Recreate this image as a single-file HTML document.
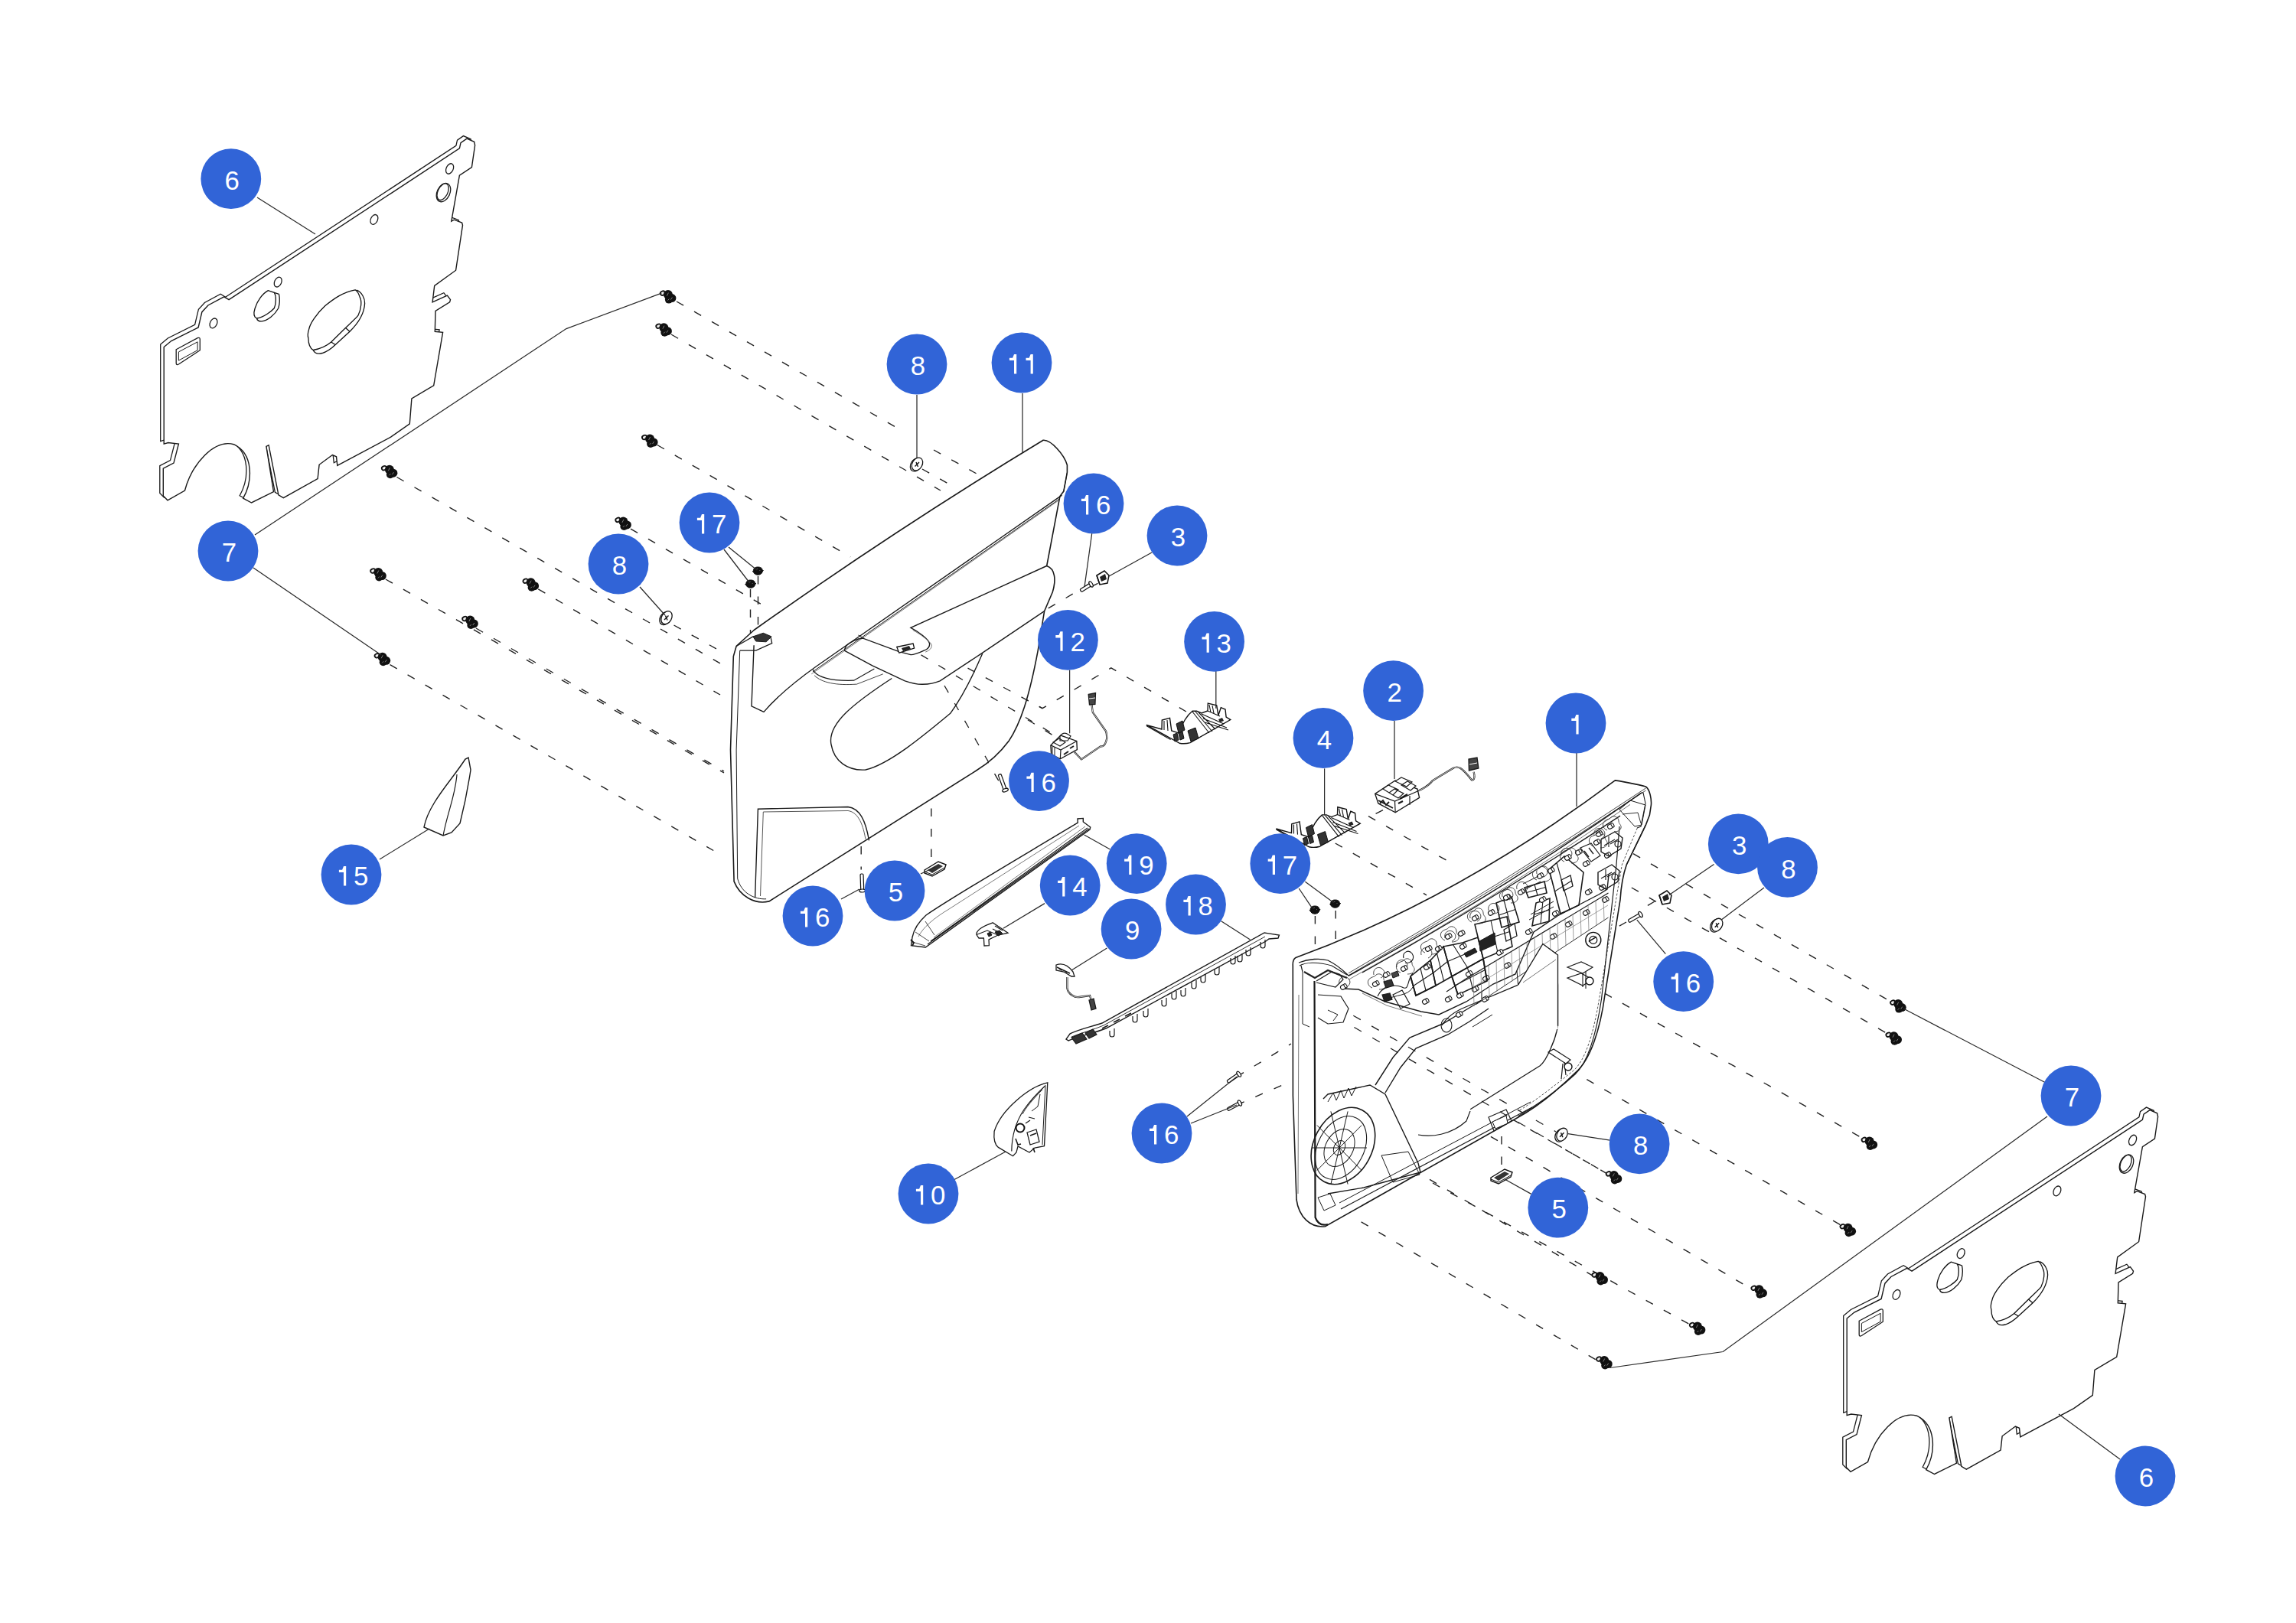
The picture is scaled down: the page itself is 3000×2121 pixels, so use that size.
<!DOCTYPE html><html><head><meta charset="utf-8"><style>html,body{margin:0;padding:0;background:#fff;width:3000px;height:2121px;overflow:hidden}svg{display:block}</style></head><body><svg xmlns="http://www.w3.org/2000/svg" width="3000" height="2121" viewBox="0 0 3000 2121"><g transform="translate(3 3.5)"><path d="M296.1 388.2 L597.4 190.4 L599 183.1 L607 177.6 L616.6 181.8 L617.6 186.3 L613.4 215.1 L597.4 225.7 L586.8 285.6 L590.3 283.7 L600.6 287.5 L601.5 290.8 L592.6 349.7 L564.7 369.9 L562.1 391.4 L581.4 382.7 L585.5 388.2 L584.6 391.4 L566 402.9 L565.3 429.8 L575.6 430.8 L563.7 500.3 L534.9 517.3 L532.3 550.3 L507.6 567.6 L437.8 604.8 L436.5 593.3 L431.4 591 L414.1 603.8 L412.1 622.1 L367.3 647.1 L360.9 643.3 L348.1 578.2 L344.9 579.8 L354.5 639.1 L325.6 653.5 L314.7 647.7 C327.5 624.7 328.2 589.4 302.5 577.2 C276.9 570.2 248.1 602.2 238.5 637.5 L216 650.3 L210.3 644.5 L210.3 608.7 L224 601.6 L230.4 576.6 L216.7 575 L211.2 576.6 L211.2 450 L220.8 442 L256.1 424.4 L260.9 404.2 L268.9 395.5 L289.7 384.3 Z" fill="none" stroke="#1a1a1a" stroke-width="1.3" transform="translate(-4.5 -3.5)"/><path d="M296.1 388.2 L597.4 190.4 L599 183.1 L607 177.6 L616.6 181.8 L617.6 186.3 L613.4 215.1 L597.4 225.7 L586.8 285.6 L590.3 283.7 L600.6 287.5 L601.5 290.8 L592.6 349.7 L564.7 369.9 L562.1 391.4 L581.4 382.7 L585.5 388.2 L584.6 391.4 L566 402.9 L565.3 429.8 L575.6 430.8 L563.7 500.3 L534.9 517.3 L532.3 550.3 L507.6 567.6 L437.8 604.8 L436.5 593.3 L431.4 591 L414.1 603.8 L412.1 622.1 L367.3 647.1 L360.9 643.3 L348.1 578.2 L344.9 579.8 L354.5 639.1 L325.6 653.5 L314.7 647.7 C327.5 624.7 328.2 589.4 302.5 577.2 C276.9 570.2 248.1 602.2 238.5 637.5 L216 650.3 L210.3 644.5 L210.3 608.7 L224 601.6 L230.4 576.6 L216.7 575 L211.2 576.6 L211.2 450 L220.8 442 L256.1 424.4 L260.9 404.2 L268.9 395.5 L289.7 384.3 Z" fill="#fff" stroke="#1a1a1a" stroke-width="1.4"/><ellipse cx="584.6" cy="217" rx="4.5" ry="7.1" transform="rotate(25 584.6 217)" fill="none" stroke="#1a1a1a" stroke-width="1.3"/><ellipse cx="485.9" cy="283.4" rx="4.5" ry="6.7" transform="rotate(25 485.9 283.4)" fill="none" stroke="#1a1a1a" stroke-width="1.3"/><ellipse cx="360.2" cy="365.1" rx="4.5" ry="6.7" transform="rotate(25 360.2 365.1)" fill="none" stroke="#1a1a1a" stroke-width="1.3"/><ellipse cx="276" cy="418.9" rx="4.5" ry="6.7" transform="rotate(25 276 418.9)" fill="none" stroke="#1a1a1a" stroke-width="1.3"/><ellipse cx="576.5" cy="248.1" rx="8.3" ry="12.8" transform="rotate(25 576.5 248.1)" fill="none" stroke="#1a1a1a" stroke-width="1.3"/><ellipse cx="575.6" cy="247.2" rx="6.4" ry="11.5" transform="rotate(25 575.6 247.2)" fill="none" stroke="#1a1a1a" stroke-width="1.3"/><path d="M461.1 375.3 C445 378 432 388 421.9 396 C410 407 402 420 400.7 426.6 C399 432 399 436 399.9 438.4 C400 448 403 452 406.2 454 C412 453 422 450 429.7 443.5 L448.5 425 C458 416 464 410 465 408.6 C469 400 470 390 467.3 385.1 C466 381 464 377 461.1 375.3 Z" fill="none" stroke="#111" stroke-width="1.3"/><path d="M462.6 375.7 C470 378 474 387 473.6 393 C473 405 468 416 454 429.7 L435.2 447 C430 452 425 456 418 458 C412 459.5 408 458 406.2 454 M448.5 425 L454 429.7 M429.7 443.5 L435.2 447" fill="none" stroke="#111" stroke-width="1.3"/><path d="M347.4 376.1 C340 380 333 390 330.2 399.2 C328 406 329 411 332.5 412.5 C342 411 352 403 355.3 399.2 C358 393 358 383 355.3 378.8 Z" fill="none" stroke="#111" stroke-width="1.3"/><path d="M361.5 380.8 C363 388 362 395 360.8 399.2 C356 408 346 416 338.8 416.4 C335 416.5 333 415 332.5 412.5 M355.3 378.8 L361.5 380.8" fill="none" stroke="#111" stroke-width="1.3"/><path d="M227.2 453.2 L255.1 438.2 Q258.3 436.9 258.3 440.1 L258.3 454.2 L230.4 472.5 Q227.2 474.1 227.2 470.9 Z" fill="none" stroke="#1a1a1a" stroke-width="1.3"/><path d="M230.4 456.4 L255.1 443.3 L255.1 454.2 L230.4 467.6 Z" fill="none" stroke="#1a1a1a" stroke-width="1"/></g>
<g transform="translate(2202 1273)"><path d="M296.1 388.2 L597.4 190.4 L599 183.1 L607 177.6 L616.6 181.8 L617.6 186.3 L613.4 215.1 L597.4 225.7 L586.8 285.6 L590.3 283.7 L600.6 287.5 L601.5 290.8 L592.6 349.7 L564.7 369.9 L562.1 391.4 L581.4 382.7 L585.5 388.2 L584.6 391.4 L566 402.9 L565.3 429.8 L575.6 430.8 L563.7 500.3 L534.9 517.3 L532.3 550.3 L507.6 567.6 L437.8 604.8 L436.5 593.3 L431.4 591 L414.1 603.8 L412.1 622.1 L367.3 647.1 L360.9 643.3 L348.1 578.2 L344.9 579.8 L354.5 639.1 L325.6 653.5 L314.7 647.7 C327.5 624.7 328.2 589.4 302.5 577.2 C276.9 570.2 248.1 602.2 238.5 637.5 L216 650.3 L210.3 644.5 L210.3 608.7 L224 601.6 L230.4 576.6 L216.7 575 L211.2 576.6 L211.2 450 L220.8 442 L256.1 424.4 L260.9 404.2 L268.9 395.5 L289.7 384.3 Z" fill="none" stroke="#1a1a1a" stroke-width="1.3" transform="translate(-4.5 -3.5)"/><path d="M296.1 388.2 L597.4 190.4 L599 183.1 L607 177.6 L616.6 181.8 L617.6 186.3 L613.4 215.1 L597.4 225.7 L586.8 285.6 L590.3 283.7 L600.6 287.5 L601.5 290.8 L592.6 349.7 L564.7 369.9 L562.1 391.4 L581.4 382.7 L585.5 388.2 L584.6 391.4 L566 402.9 L565.3 429.8 L575.6 430.8 L563.7 500.3 L534.9 517.3 L532.3 550.3 L507.6 567.6 L437.8 604.8 L436.5 593.3 L431.4 591 L414.1 603.8 L412.1 622.1 L367.3 647.1 L360.9 643.3 L348.1 578.2 L344.9 579.8 L354.5 639.1 L325.6 653.5 L314.7 647.7 C327.5 624.7 328.2 589.4 302.5 577.2 C276.9 570.2 248.1 602.2 238.5 637.5 L216 650.3 L210.3 644.5 L210.3 608.7 L224 601.6 L230.4 576.6 L216.7 575 L211.2 576.6 L211.2 450 L220.8 442 L256.1 424.4 L260.9 404.2 L268.9 395.5 L289.7 384.3 Z" fill="#fff" stroke="#1a1a1a" stroke-width="1.4"/><ellipse cx="584.6" cy="217" rx="4.5" ry="7.1" transform="rotate(25 584.6 217)" fill="none" stroke="#1a1a1a" stroke-width="1.3"/><ellipse cx="485.9" cy="283.4" rx="4.5" ry="6.7" transform="rotate(25 485.9 283.4)" fill="none" stroke="#1a1a1a" stroke-width="1.3"/><ellipse cx="360.2" cy="365.1" rx="4.5" ry="6.7" transform="rotate(25 360.2 365.1)" fill="none" stroke="#1a1a1a" stroke-width="1.3"/><ellipse cx="276" cy="418.9" rx="4.5" ry="6.7" transform="rotate(25 276 418.9)" fill="none" stroke="#1a1a1a" stroke-width="1.3"/><ellipse cx="576.5" cy="248.1" rx="8.3" ry="12.8" transform="rotate(25 576.5 248.1)" fill="none" stroke="#1a1a1a" stroke-width="1.3"/><ellipse cx="575.6" cy="247.2" rx="6.4" ry="11.5" transform="rotate(25 575.6 247.2)" fill="none" stroke="#1a1a1a" stroke-width="1.3"/><path d="M461.1 375.3 C445 378 432 388 421.9 396 C410 407 402 420 400.7 426.6 C399 432 399 436 399.9 438.4 C400 448 403 452 406.2 454 C412 453 422 450 429.7 443.5 L448.5 425 C458 416 464 410 465 408.6 C469 400 470 390 467.3 385.1 C466 381 464 377 461.1 375.3 Z" fill="none" stroke="#111" stroke-width="1.3"/><path d="M462.6 375.7 C470 378 474 387 473.6 393 C473 405 468 416 454 429.7 L435.2 447 C430 452 425 456 418 458 C412 459.5 408 458 406.2 454 M448.5 425 L454 429.7 M429.7 443.5 L435.2 447" fill="none" stroke="#111" stroke-width="1.3"/><path d="M347.4 376.1 C340 380 333 390 330.2 399.2 C328 406 329 411 332.5 412.5 C342 411 352 403 355.3 399.2 C358 393 358 383 355.3 378.8 Z" fill="none" stroke="#111" stroke-width="1.3"/><path d="M361.5 380.8 C363 388 362 395 360.8 399.2 C356 408 346 416 338.8 416.4 C335 416.5 333 415 332.5 412.5 M355.3 378.8 L361.5 380.8" fill="none" stroke="#111" stroke-width="1.3"/><path d="M227.2 453.2 L255.1 438.2 Q258.3 436.9 258.3 440.1 L258.3 454.2 L230.4 472.5 Q227.2 474.1 227.2 470.9 Z" fill="none" stroke="#1a1a1a" stroke-width="1.3"/><path d="M230.4 456.4 L255.1 443.3 L255.1 454.2 L230.4 467.6 Z" fill="none" stroke="#1a1a1a" stroke-width="1"/></g>
<path d="M884 394 L1170 558" fill="none" stroke="#222" stroke-width="1.4" stroke-dasharray="10.5 16"/>
<path d="M1220 588 L1276 619" fill="none" stroke="#222" stroke-width="1.4" stroke-dasharray="10.5 16"/>
<path d="M877 437 L1229 641" fill="none" stroke="#222" stroke-width="1.4" stroke-dasharray="10.5 16"/>
<path d="M1205 613 L1239 632" fill="none" stroke="#222" stroke-width="1.4" stroke-dasharray="10.5 16"/>
<path d="M858.8 581.5 L1111.2 727.8" fill="none" stroke="#222" stroke-width="1.4" stroke-dasharray="10.5 16"/>
<path d="M518.5 623.5 L941 867" fill="none" stroke="#222" stroke-width="1.4" stroke-dasharray="10.5 16"/>
<path d="M824 691.2 L1005 795.5" fill="none" stroke="#222" stroke-width="1.4" stroke-dasharray="10.5 16"/>
<path d="M503.9 757 L946 1010" fill="none" stroke="#222" stroke-width="1.4" stroke-dasharray="10.5 16"/>
<path d="M703.3 769.9 L941 908" fill="none" stroke="#222" stroke-width="1.4" stroke-dasharray="10.5 16"/>
<path d="M622 821 L946 1008" fill="none" stroke="#222" stroke-width="1.4" stroke-dasharray="10.5 16"/>
<path d="M509.6 868.7 L932.2 1111.5" fill="none" stroke="#222" stroke-width="1.4" stroke-dasharray="10.5 16"/>
<path d="M880.5 817 L935.9 847.8" fill="none" stroke="#222" stroke-width="1.4" stroke-dasharray="10.5 16"/>
<path d="M990.5 753 L990.5 819.3" fill="none" stroke="#222" stroke-width="1.4" stroke-dasharray="10.5 16"/>
<path d="M980.5 770 L980.5 830.3" fill="none" stroke="#222" stroke-width="1.4" stroke-dasharray="10.5 16"/>
<path d="M1264.5 873.1 L1362 925.7 L1451.8 872.9 L1552 931.2" fill="none" stroke="#222" stroke-width="1.4" stroke-dasharray="10.5 16"/>
<path d="M1207.3 857.8 L1376 961" fill="none" stroke="#222" stroke-width="1.4" stroke-dasharray="10.5 16"/>
<path d="M1234 896 L1308 1026" fill="none" stroke="#222" stroke-width="1.4" stroke-dasharray="10.5 16"/>
<path d="M1369.7 794.8 L1406.7 773.3" fill="none" stroke="#222" stroke-width="1.4" stroke-dasharray="10.5 16"/>
<path d="M1425 767 L1437.5 761" fill="none" stroke="#222" stroke-width="1.4" stroke-dasharray="10.5 16"/>
<path d="M1216.8 1056.4 L1216.8 1121.3" fill="none" stroke="#222" stroke-width="1.4" stroke-dasharray="10.5 16"/>
<path d="M1125.2 1106 L1125.2 1136.6" fill="none" stroke="#222" stroke-width="1.4" stroke-dasharray="10.5 16"/>
<path d="M2134 1115.6 L2466.6 1306.6" fill="none" stroke="#222" stroke-width="1.4" stroke-dasharray="10.5 16"/>
<path d="M2131.8 1160 L2464.3 1349.7" fill="none" stroke="#222" stroke-width="1.4" stroke-dasharray="10.5 16"/>
<path d="M2096.7 1298.2 L2438.5 1490.2" fill="none" stroke="#222" stroke-width="1.4" stroke-dasharray="10.5 16"/>
<path d="M2073.3 1410.6 L2408 1602.6" fill="none" stroke="#222" stroke-width="1.4" stroke-dasharray="10.5 16"/>
<path d="M1769.6 1344 L2101.4 1534.7" fill="none" stroke="#222" stroke-width="1.4" stroke-dasharray="10.5 16"/>
<path d="M1925 1472 L2288.7 1684.5" fill="none" stroke="#222" stroke-width="1.4" stroke-dasharray="10.5 16"/>
<path d="M1868 1541.3 L2082.6 1668" fill="none" stroke="#222" stroke-width="1.4" stroke-dasharray="10.5 16"/>
<path d="M1872 1546 L2209 1731.4" fill="none" stroke="#222" stroke-width="1.4" stroke-dasharray="10.5 16"/>
<path d="M1778.6 1596.9 L2087.3 1778.2" fill="none" stroke="#222" stroke-width="1.4" stroke-dasharray="10.5 16"/>
<path d="M1616 1407 L1687 1364" fill="none" stroke="#222" stroke-width="1.4" stroke-dasharray="10.5 16"/>
<path d="M1616 1444 L1687 1413" fill="none" stroke="#222" stroke-width="1.4" stroke-dasharray="10.5 16"/>
<path d="M1788 1066.7 L1893.8 1126.4" fill="none" stroke="#222" stroke-width="1.4" stroke-dasharray="10.5 16"/>
<path d="M1807 1058.6 L1788 1068" fill="none" stroke="#222" stroke-width="1.4" stroke-dasharray="10.5 16"/>
<path d="M1744.7 1102 L1864 1169.8" fill="none" stroke="#222" stroke-width="1.4" stroke-dasharray="10.5 16"/>
<path d="M1718.4 1196.9 L1718.4 1260" fill="none" stroke="#222" stroke-width="1.4" stroke-dasharray="10.5 16"/>
<path d="M1745.2 1190 L1745.2 1260" fill="none" stroke="#222" stroke-width="1.4" stroke-dasharray="10.5 16"/>
<path d="M1962 1485 L1962 1522" fill="none" stroke="#222" stroke-width="1.4" stroke-dasharray="10.5 16"/>
<path d="M2162 1178 L2150 1185" fill="none" stroke="#222" stroke-width="1.4" stroke-dasharray="10.5 16"/>
<path d="M2125 1205 L2095 1222" fill="none" stroke="#222" stroke-width="1.4" stroke-dasharray="10.5 16"/>
<path d="M985.1 823.5 Q1169.9 692.3 1363.1 575.3 C1373.4 574.5 1390.6 594.4 1394.4 607.7 L1394.4 617.3 L1389.8 642.1 L1384.9 648.6 L1367.7 739.5 C1379.1 743.3 1379.9 758.6 1375.3 773.8 L1364.6 798.7 L1356.2 850.2 C1344.8 911.3 1333.3 945.7 1318 968.6 C1306.6 983.9 1295.1 995.3 1276 1006.8 L1004.9 1177.9 C985.8 1182.4 966.7 1171 959.1 1151.9 L954.5 980 L958.3 857.9 L962.1 844.5 Z" fill="#fff" stroke="#1a1a1a" stroke-width="1.6"/>
<path d="M966.7 850.2 L962.1 980 L963.7 1148.1 C968.6 1167.2 985.8 1175.6 1001.1 1174.8" fill="none" stroke="#1a1a1a" stroke-width="1"/>
<path d="M1387.5 647.1 L1066 871.2 C1039.3 890.3 1012.6 913.2 998 930.4 L982 922.8 L985.1 843.3" fill="none" stroke="#1a1a1a" stroke-width="1.4"/>
<path d="M1384.9 651.6 L1062.2 877.7" fill="none" stroke="#1a1a1a" stroke-width="1"/>
<path d="M1382.2 654.7 L1060.3 880.8" fill="none" stroke="#555" stroke-width="0.8"/>
<path d="M1389.8 642.1 L1394.4 617.3" fill="none" stroke="#1a1a1a" stroke-width="1"/>
<path d="M1367.7 739.5 L1190 820.4 C1199.7 825.4 1213 834.9 1214.6 841.1 C1214.9 845.6 1211.9 848.7 1207.3 850.2 C1199.7 854 1192 855.9 1190 855.6 L1174.8 851.6 L1127.6 834.1 L1121.5 834.9 C1113.7 838 1106.1 842.6 1104.7 845.5 L1103.2 850.1" fill="none" stroke="#1a1a1a" stroke-width="1.4"/>
<path d="M1364.6 798.7 L1281.5 854.7 L1228.2 889.8 C1222.6 892.2 1213 894.1 1205.3 894.3 C1199.7 894.5 1192 893 1182.4 889.8 L1139.8 869.9 L1103.2 850.1" fill="none" stroke="#1a1a1a" stroke-width="1.4"/>
<path d="M1192.8 823.5 C1203.5 829.2 1215.7 838.8 1217.2 842.6 C1218 847.2 1214.2 850.2 1209.2 852.1" fill="none" stroke="#666" stroke-width="0.9"/>
<path d="M1121.4 830 L1129 834.2" fill="none" stroke="#1a1a1a" stroke-width="1"/>
<path d="M1062.2 875 C1066 884.6 1085.1 890.3 1115.7 889.2 L1142.4 873.9" fill="none" stroke="#1a1a1a" stroke-width="1.2"/>
<path d="M1064.1 882.7 C1073.7 892.2 1092.7 896 1119.5 894.1 L1153.8 880.8" fill="none" stroke="#444" stroke-width="1"/>
<path d="M1165.3 886.5 C1115.7 918.9 1081.3 945.7 1085.9 972.4 C1089.7 995.3 1108 1007.5 1130.9 1006 C1161.5 999.1 1207.3 961 1241.7 932.3 C1256.9 911.3 1272.2 880.8 1283.7 854" fill="none" stroke="#1a1a1a" stroke-width="1.4"/>
<path d="M986.6 1172.9 L990.4 1057.2 L1108 1054.5 C1123.3 1056.4 1130.9 1071.7 1135.5 1098.4" fill="none" stroke="#1a1a1a" stroke-width="1.4"/>
<path d="M993.5 1171 L997.3 1061 L1108 1059.5 C1119.5 1061 1127.1 1073.6 1130.9 1096.5" fill="none" stroke="#444" stroke-width="0.9"/>
<path d="M962.1 844.5 L983.9 831.9 L1006.8 831.9 L1008.7 840.7 L987.7 850.2 L966.7 850.2" fill="none" stroke="#1a1a1a" stroke-width="1.3"/>
<path d="M983.9 831.9 L997.3 827.3 L1008 831.9 L1001.1 838.8 L987.7 838 Z" fill="#333" stroke="#1a1a1a" stroke-width="1"/>
<path d="M1171.8 845.5 L1193.1 841 L1194.6 847 L1174.8 853.2 Z" fill="#fff" stroke="#111" stroke-width="1.3"/><path d="M1178 847 l10 -3 l2 4 l-10 3 z" fill="#222"/>
<path d="M1203.5 855.9 L1379.1 961" fill="none" stroke="#222" stroke-width="1.3" stroke-dasharray="10.5 16"/>
<path d="M1234 896 L1291.3 995.3" fill="none" stroke="#222" stroke-width="1.3" stroke-dasharray="10.5 16"/>
<path d="M1264.5 873.1 L1362 925.7" fill="none" stroke="#222" stroke-width="1.3" stroke-dasharray="10.5 16"/>
<path d="M1689.3 1262 C1689 1256 1690 1253 1693 1251.5 Q1901.6 1175.7 2110.3 1019.9 C2113 1020 2140 1025 2150.4 1028 C2156 1032 2158 1045 2157.4 1052 L2155.4 1065.1 L2150.4 1078.1 L2125.3 1130 C2120 1145 2118 1160 2117 1176 L2097 1300 C2091 1345 2078 1385 2058.7 1401.6 C2040 1420 2010 1446 1980 1462.3 L1731.5 1602.8 C1712 1605 1697 1590 1694 1567.7 L1689.4 1432 Z" fill="#fff" stroke="#1a1a1a" stroke-width="1.6" />
<path d="M1768.3 1327.2 L2033 1479" fill="none" stroke="#222" stroke-width="1.3" stroke-dasharray="11 16.5"/>
<path d="M1769.4 1342.5 L2101.4 1534.7" fill="none" stroke="#222" stroke-width="1.3" stroke-dasharray="11 16.5"/>
<path d="M1762 1271.8 Q1956.2 1159.3 2150.4 1030" fill="none" stroke="#333" stroke-width="0.9" />
<path d="M1762 1274.8 Q1956.2 1162.3 2150.4 1033" fill="none" stroke="#333" stroke-width="0.9" />
<path d="M1761.8 1275.4 Q1953.1 1170.8 2144.3 1036.3" fill="none" stroke="#1a1a1a" stroke-width="1.5" />
<path d="M1761.8 1280.4 Q1945.9 1179.7 2130 1051.4" fill="none" stroke="#555" stroke-width="0.8" />
<path d="M1780 1271 Q1948.5 1177 2117 1066.1" fill="none" stroke="#1a1a1a" stroke-width="1.3" />
<path d="M1697 1258 C1710 1253 1725 1252 1735 1255 C1745 1260 1755 1268 1762 1275" fill="none" stroke="#1a1a1a" stroke-width="1.3" />
<path d="M1702 1270 L1700 1262 M1720 1282 L1740 1270 L1750 1273 L1755 1280 L1745 1290 L1720 1284" fill="none" stroke="#1a1a1a" stroke-width="1.2" />
<path d="M1704 1270 L1718 1278 L1735 1268 L1760 1278" fill="none" stroke="#222" stroke-width="2.2" />
<path d="M2144 1036 L2147 1036 L2150 1050 L2144 1080 L2139 1082" fill="none" stroke="#1a1a1a" stroke-width="1.1" />
<path d="M2116 1058 L2130 1046 L2150 1052 L2145 1078 L2136 1080 Z" fill="none" stroke="#1a1a1a" stroke-width="1.0" />
<path d="M2120 1064 L2140 1062 L2144 1076" fill="none" stroke="#1a1a1a" stroke-width="0.9" />
<path d="M2139.3 1082.1 L2119.3 1130 L2089 1308.7 C2082 1350 2072 1385 2056 1399 C2030 1420 2000 1443 1983.6 1452" fill="none" stroke="#444" stroke-width="0.9" stroke-dasharray="3 2"/>
<path d="M2150.4 1078.1 L2125.3 1130" fill="none" stroke="#1a1a1a" stroke-width="1.2" />
<path d="M2116 1080 L2112 1130 L2092.6 1305 C2086 1350 2075 1388 2058 1404 C2035 1425 2005 1446 1983.6 1458.8" fill="none" stroke="#1a1a1a" stroke-width="1.2" />
<path d="M1717.5 1282 L1718.6 1591 C1722 1600 1728 1602 1735 1600" fill="none" stroke="#1a1a1a" stroke-width="2.2" />
<path d="M1702 1270 L1702 1338 L1711 1342" fill="none" stroke="#1a1a1a" stroke-width="1" />
<path d="M1697 1300 L1696 1560" fill="none" stroke="#555" stroke-width="0.8" />
<path d="M1698 1262 C1705 1258 1720 1256 1740 1262 L1760 1274" fill="none" stroke="#1a1a1a" stroke-width="1.1" />
<path d="M1750 1572 L2000 1440" fill="none" stroke="#1a1a1a" stroke-width="1" />
<path d="M1752 1580 L2002 1447" fill="none" stroke="#1a1a1a" stroke-width="1.2" />
<path d="M1853 1483 C1870 1486 1895 1484 1916 1465 L1921 1452" fill="none" stroke="#1a1a1a" stroke-width="1.2" />
<path d="M1884 1340 C1890 1330 1900 1322 1915 1316 L1983.6 1287.2 L2033.7 1251.5 M2015.8 1233.6 L2033.7 1247.9 L2035.5 1287.2 L2035.5 1340.8 C2033 1355 2030 1362 2026.5 1369.4 C2022 1380 2018 1388 2012.2 1392.7 L1921.1 1449.8" fill="none" stroke="#1a1a1a" stroke-width="1.3" />
<path d="M1983.6 1287.2 L1982 1269 M1936 1306 L1936 1296" fill="none" stroke="#1a1a1a" stroke-width="1.0" />
<path d="M1755 1292 L1775 1293 L1810 1309 L1857 1322 L1880 1326 L1916 1309 L1951 1286 L1980 1273 L2004 1218 L2035 1197 L2089 1169 L2100 1162 L2102 1143" fill="none" stroke="#1a1a1a" stroke-width="1.4" />
<path d="M1780 1298 L1812 1314 L1858 1328" fill="none" stroke="#555" stroke-width="0.8" />
<path d="M1797 1418 L1820 1382 L1842 1356 L1885 1338 L1915 1320 L1940 1305" fill="none" stroke="#1a1a1a" stroke-width="1.4" />
<path d="M1810 1428 L1830 1395 L1850 1370 L1892 1352 L1920 1335 L1945 1318" fill="none" stroke="#1a1a1a" stroke-width="1.4" />
<ellipse cx="1890" cy="1340" rx="7" ry="9" fill="none" stroke="#1a1a1a" stroke-width="1.1"/>
<path d="M1729 1436 L1735 1430 L1790 1418 L1810 1430 L1853 1520 L1856 1532 L1782 1552 L1735 1560" fill="none" stroke="#1a1a1a" stroke-width="1.4" />
<ellipse cx="1754.9" cy="1497.5" rx="38" ry="53" transform="rotate(28 1754.9 1497.5)" fill="none" stroke="#1a1a1a" stroke-width="1.6"/>
<ellipse cx="1752" cy="1500" rx="30" ry="44" transform="rotate(28 1752 1500)" fill="none" stroke="#1a1a1a" stroke-width="1.1"/>
<ellipse cx="1750" cy="1500" rx="18" ry="26" transform="rotate(28 1750 1500)" fill="none" stroke="#1a1a1a" stroke-width="1"/>
<ellipse cx="1750" cy="1500" rx="7" ry="10" transform="rotate(28 1750 1500)" fill="none" stroke="#1a1a1a" stroke-width="1"/>
<line x1="1750" y1="1500" x2="1786" y2="1500" stroke="#1a1a1a" stroke-width="1"/>
<line x1="1750" y1="1500" x2="1779.1" y2="1529.4" stroke="#1a1a1a" stroke-width="1"/>
<line x1="1750" y1="1500" x2="1761.1" y2="1547.6" stroke="#1a1a1a" stroke-width="1"/>
<line x1="1750" y1="1500" x2="1738.9" y2="1547.6" stroke="#1a1a1a" stroke-width="1"/>
<line x1="1750" y1="1500" x2="1720.9" y2="1529.4" stroke="#1a1a1a" stroke-width="1"/>
<line x1="1750" y1="1500" x2="1714" y2="1500" stroke="#1a1a1a" stroke-width="1"/>
<line x1="1750" y1="1500" x2="1720.9" y2="1470.6" stroke="#1a1a1a" stroke-width="1"/>
<line x1="1750" y1="1500" x2="1738.9" y2="1452.4" stroke="#1a1a1a" stroke-width="1"/>
<line x1="1750" y1="1500" x2="1761.1" y2="1452.4" stroke="#1a1a1a" stroke-width="1"/>
<line x1="1750" y1="1500" x2="1779.1" y2="1470.6" stroke="#1a1a1a" stroke-width="1"/>
<path d="M1735 1440 L1742 1428 L1746 1438 L1752 1425 L1756 1435 L1762 1422 L1766 1432 L1772 1420" fill="none" stroke="#1a1a1a" stroke-width="1" />
<path d="M1805 1510 L1840 1505 L1855 1535 L1820 1545 Z" fill="none" stroke="#1a1a1a" stroke-width="1" />
<path d="M1722 1565 L1738 1560 L1745 1575 L1730 1582 Z" fill="none" stroke="#1a1a1a" stroke-width="1" />
<path d="M1722 1300 L1752 1302 L1762 1318 L1755 1336 L1735 1338 L1722 1330" fill="none" stroke="#1a1a1a" stroke-width="1.2" />
<path d="M1735 1320 L1748 1326 L1742 1334" fill="none" stroke="#1a1a1a" stroke-width="1" />
<path d="M1843 1276 L1869 1255 L1876 1288 L1850 1301 Z" fill="none" stroke="#1a1a1a" stroke-width="1.6" />
<path d="M1856 1265.5 L1863 1294.5" fill="none" stroke="#1a1a1a" stroke-width="1.1" />
<path d="M1846.5 1288.5 L1872.5 1271.5" fill="none" stroke="#1a1a1a" stroke-width="1.1" />
<path d="M1869 1255 L1886 1237 L1897 1276 L1876 1288 Z" fill="none" stroke="#1a1a1a" stroke-width="1.6" />
<path d="M1877.5 1246 L1886.5 1282" fill="none" stroke="#1a1a1a" stroke-width="1.1" />
<path d="M1872.5 1271.5 L1891.5 1256.5" fill="none" stroke="#1a1a1a" stroke-width="1.1" />
<path d="M1886 1237 L1911 1232 L1931 1225 L1938 1253 L1897 1276 Z" fill="none" stroke="#1a1a1a" stroke-width="1.6" />
<path d="M1898.5 1234.5 L1917.5 1264.5" fill="none" stroke="#1a1a1a" stroke-width="1.1" />
<path d="M1891.5 1256.5 L1924.5 1242.5" fill="none" stroke="#1a1a1a" stroke-width="1.1" />
<path d="M1927 1208 L1969 1198 L1976 1237 L1938 1253 Z" fill="none" stroke="#1a1a1a" stroke-width="1.6" />
<path d="M1948 1203 L1957 1245" fill="none" stroke="#1a1a1a" stroke-width="1.1" />
<path d="M1932.5 1230.5 L1972.5 1217.5" fill="none" stroke="#1a1a1a" stroke-width="1.1" />
<path d="M1897 1276 L1938 1253 L1943 1282 L1905 1300 Z" fill="none" stroke="#1a1a1a" stroke-width="1.6" />
<path d="M1917.5 1264.5 L1924 1291" fill="none" stroke="#1a1a1a" stroke-width="1.1" />
<path d="M1901 1288 L1940.5 1267.5" fill="none" stroke="#1a1a1a" stroke-width="1.1" />
<path d="M2024 1136 L2044 1119 L2069 1140 L2063 1183 L2039 1194 Z" fill="none" stroke="#1a1a1a" stroke-width="1.6" />
<path d="M2034 1127.5 L2051 1188.5" fill="none" stroke="#1a1a1a" stroke-width="1.1" />
<path d="M2031.5 1165 L2053.5 1151" fill="none" stroke="#1a1a1a" stroke-width="1.1" />
<path d="M2002 1210 L2007 1180 L2025 1174 L2024 1204 Z" fill="none" stroke="#1a1a1a" stroke-width="1.6" />
<path d="M2004.5 1195 L2024.5 1189" fill="none" stroke="#1a1a1a" stroke-width="1.1" />
<path d="M2013 1207 L2016 1177" fill="none" stroke="#1a1a1a" stroke-width="1.1" />
<path d="M1992 1160 L2018 1152 L2021 1167 L1997 1173 Z" fill="none" stroke="#1a1a1a" stroke-width="1.6" />
<path d="M2005 1156 L2009 1170" fill="none" stroke="#1a1a1a" stroke-width="1.1" />
<path d="M1994.5 1166.5 L2019.5 1159.5" fill="none" stroke="#1a1a1a" stroke-width="1.1" />
<path d="M1955 1180 L1975 1172 L1985 1205 L1962 1212 Z" fill="none" stroke="#1a1a1a" stroke-width="1.6" />
<path d="M1965 1176 L1973.5 1208.5" fill="none" stroke="#1a1a1a" stroke-width="1.1" />
<path d="M1958.5 1196 L1980 1188.5" fill="none" stroke="#1a1a1a" stroke-width="1.1" />
<path d="M1933 1230 L1953 1219 L1954 1234 L1934 1243 Z" fill="#222" stroke="#1a1a1a" stroke-width="1" />
<path d="M1913 1246 L1927 1239 L1930 1244 L1916 1251 Z" fill="#222" stroke="#1a1a1a" stroke-width="1" />
<path d="M1750 1286 c-2 -8 6 -12 11 -8 c5 4 3 10 -2 12" fill="none" stroke="#333" stroke-width="0.9"/>
<path d="M1795 1274 c-2 -8 6 -12 11 -8 c5 4 3 10 -2 12" fill="none" stroke="#333" stroke-width="0.9"/>
<path d="M1825 1264 c-2 -8 6 -12 11 -8 c5 4 3 10 -2 12" fill="none" stroke="#333" stroke-width="0.9"/>
<path d="M1857 1248 c-2 -8 6 -12 11 -8 c5 4 3 10 -2 12" fill="none" stroke="#333" stroke-width="0.9"/>
<path d="M1888 1226 c-2 -8 6 -12 11 -8 c5 4 3 10 -2 12" fill="none" stroke="#333" stroke-width="0.9"/>
<path d="M1921 1200 c-2 -8 6 -12 11 -8 c5 4 3 10 -2 12" fill="none" stroke="#333" stroke-width="0.9"/>
<path d="M1945 1190 c-2 -8 6 -12 11 -8 c5 4 3 10 -2 12" fill="none" stroke="#333" stroke-width="0.9"/>
<path d="M1963 1172 c-2 -8 6 -12 11 -8 c5 4 3 10 -2 12" fill="none" stroke="#333" stroke-width="0.9"/>
<path d="M1982 1162 c-2 -8 6 -12 11 -8 c5 4 3 10 -2 12" fill="none" stroke="#333" stroke-width="0.9"/>
<path d="M2008 1142 c-2 -8 6 -12 11 -8 c5 4 3 10 -2 12" fill="none" stroke="#333" stroke-width="0.9"/>
<path d="M2040 1118 c-2 -8 6 -12 11 -8 c5 4 3 10 -2 12" fill="none" stroke="#333" stroke-width="0.9"/>
<path d="M2083 1092 c-2 -8 6 -12 11 -8 c5 4 3 10 -2 12" fill="none" stroke="#333" stroke-width="0.9"/>
<g transform="translate(1755 1290) rotate(-30)"><rect x="-3.5" y="-3" width="7" height="6" rx="3" fill="#fff" stroke="#111" stroke-width="1.1"/><ellipse cx="3.5" cy="0" rx="1.6" ry="3" fill="#fff" stroke="#111" stroke-width="1"/></g>
<g transform="translate(1797 1286) rotate(-30)"><rect x="-3.5" y="-3" width="7" height="6" rx="3" fill="#fff" stroke="#111" stroke-width="1.1"/><ellipse cx="3.5" cy="0" rx="1.6" ry="3" fill="#fff" stroke="#111" stroke-width="1"/></g>
<g transform="translate(1811 1274) rotate(-30)"><rect x="-3.5" y="-3" width="7" height="6" rx="3" fill="#fff" stroke="#111" stroke-width="1.1"/><ellipse cx="3.5" cy="0" rx="1.6" ry="3" fill="#fff" stroke="#111" stroke-width="1"/></g>
<g transform="translate(1834 1266) rotate(-30)"><rect x="-3.5" y="-3" width="7" height="6" rx="3" fill="#fff" stroke="#111" stroke-width="1.1"/><ellipse cx="3.5" cy="0" rx="1.6" ry="3" fill="#fff" stroke="#111" stroke-width="1"/></g>
<g transform="translate(1866 1240) rotate(-30)"><rect x="-3.5" y="-3" width="7" height="6" rx="3" fill="#fff" stroke="#111" stroke-width="1.1"/><ellipse cx="3.5" cy="0" rx="1.6" ry="3" fill="#fff" stroke="#111" stroke-width="1"/></g>
<g transform="translate(1879 1240) rotate(-30)"><rect x="-3.5" y="-3" width="7" height="6" rx="3" fill="#fff" stroke="#111" stroke-width="1.1"/><ellipse cx="3.5" cy="0" rx="1.6" ry="3" fill="#fff" stroke="#111" stroke-width="1"/></g>
<g transform="translate(1892 1224) rotate(-30)"><rect x="-3.5" y="-3" width="7" height="6" rx="3" fill="#fff" stroke="#111" stroke-width="1.1"/><ellipse cx="3.5" cy="0" rx="1.6" ry="3" fill="#fff" stroke="#111" stroke-width="1"/></g>
<g transform="translate(1909 1220) rotate(-30)"><rect x="-3.5" y="-3" width="7" height="6" rx="3" fill="#fff" stroke="#111" stroke-width="1.1"/><ellipse cx="3.5" cy="0" rx="1.6" ry="3" fill="#fff" stroke="#111" stroke-width="1"/></g>
<g transform="translate(1927 1200) rotate(-30)"><rect x="-3.5" y="-3" width="7" height="6" rx="3" fill="#fff" stroke="#111" stroke-width="1.1"/><ellipse cx="3.5" cy="0" rx="1.6" ry="3" fill="#fff" stroke="#111" stroke-width="1"/></g>
<g transform="translate(1948 1193) rotate(-30)"><rect x="-3.5" y="-3" width="7" height="6" rx="3" fill="#fff" stroke="#111" stroke-width="1.1"/><ellipse cx="3.5" cy="0" rx="1.6" ry="3" fill="#fff" stroke="#111" stroke-width="1"/></g>
<g transform="translate(1969 1173) rotate(-30)"><rect x="-3.5" y="-3" width="7" height="6" rx="3" fill="#fff" stroke="#111" stroke-width="1.1"/><ellipse cx="3.5" cy="0" rx="1.6" ry="3" fill="#fff" stroke="#111" stroke-width="1"/></g>
<g transform="translate(1911 1237) rotate(-30)"><rect x="-3.5" y="-3" width="7" height="6" rx="3" fill="#fff" stroke="#111" stroke-width="1.1"/><ellipse cx="3.5" cy="0" rx="1.6" ry="3" fill="#fff" stroke="#111" stroke-width="1"/></g>
<g transform="translate(1959 1245) rotate(-30)"><rect x="-3.5" y="-3" width="7" height="6" rx="3" fill="#fff" stroke="#111" stroke-width="1.1"/><ellipse cx="3.5" cy="0" rx="1.6" ry="3" fill="#fff" stroke="#111" stroke-width="1"/></g>
<g transform="translate(1919 1273) rotate(-30)"><rect x="-3.5" y="-3" width="7" height="6" rx="3" fill="#fff" stroke="#111" stroke-width="1.1"/><ellipse cx="3.5" cy="0" rx="1.6" ry="3" fill="#fff" stroke="#111" stroke-width="1"/></g>
<g transform="translate(1927 1293) rotate(-30)"><rect x="-3.5" y="-3" width="7" height="6" rx="3" fill="#fff" stroke="#111" stroke-width="1.1"/><ellipse cx="3.5" cy="0" rx="1.6" ry="3" fill="#fff" stroke="#111" stroke-width="1"/></g>
<g transform="translate(1941 1279) rotate(-30)"><rect x="-3.5" y="-3" width="7" height="6" rx="3" fill="#fff" stroke="#111" stroke-width="1.1"/><ellipse cx="3.5" cy="0" rx="1.6" ry="3" fill="#fff" stroke="#111" stroke-width="1"/></g>
<g transform="translate(1892 1306) rotate(-30)"><rect x="-3.5" y="-3" width="7" height="6" rx="3" fill="#fff" stroke="#111" stroke-width="1.1"/><ellipse cx="3.5" cy="0" rx="1.6" ry="3" fill="#fff" stroke="#111" stroke-width="1"/></g>
<g transform="translate(1862 1309) rotate(-30)"><rect x="-3.5" y="-3" width="7" height="6" rx="3" fill="#fff" stroke="#111" stroke-width="1.1"/><ellipse cx="3.5" cy="0" rx="1.6" ry="3" fill="#fff" stroke="#111" stroke-width="1"/></g>
<g transform="translate(1907 1301) rotate(-30)"><rect x="-3.5" y="-3" width="7" height="6" rx="3" fill="#fff" stroke="#111" stroke-width="1.1"/><ellipse cx="3.5" cy="0" rx="1.6" ry="3" fill="#fff" stroke="#111" stroke-width="1"/></g>
<g transform="translate(1969 1262) rotate(-30)"><rect x="-3.5" y="-3" width="7" height="6" rx="3" fill="#fff" stroke="#111" stroke-width="1.1"/><ellipse cx="3.5" cy="0" rx="1.6" ry="3" fill="#fff" stroke="#111" stroke-width="1"/></g>
<g transform="translate(1906 1326) rotate(-30)"><rect x="-3.5" y="-3" width="7" height="6" rx="3" fill="#fff" stroke="#111" stroke-width="1.1"/><ellipse cx="3.5" cy="0" rx="1.6" ry="3" fill="#fff" stroke="#111" stroke-width="1"/></g>
<g transform="translate(1940 1306) rotate(-30)"><rect x="-3.5" y="-3" width="7" height="6" rx="3" fill="#fff" stroke="#111" stroke-width="1.1"/><ellipse cx="3.5" cy="0" rx="1.6" ry="3" fill="#fff" stroke="#111" stroke-width="1"/></g>
<g transform="translate(1864 1264) rotate(-30)"><rect x="-3.5" y="-3" width="7" height="6" rx="3" fill="#fff" stroke="#111" stroke-width="1.1"/><ellipse cx="3.5" cy="0" rx="1.6" ry="3" fill="#fff" stroke="#111" stroke-width="1"/></g>
<g transform="translate(1968 1173) rotate(-30)"><rect x="-3.5" y="-3" width="7" height="6" rx="3" fill="#fff" stroke="#111" stroke-width="1.1"/><ellipse cx="3.5" cy="0" rx="1.6" ry="3" fill="#fff" stroke="#111" stroke-width="1"/></g>
<g transform="translate(1987 1166) rotate(-30)"><rect x="-3.5" y="-3" width="7" height="6" rx="3" fill="#fff" stroke="#111" stroke-width="1.1"/><ellipse cx="3.5" cy="0" rx="1.6" ry="3" fill="#fff" stroke="#111" stroke-width="1"/></g>
<g transform="translate(2012 1145) rotate(-30)"><rect x="-3.5" y="-3" width="7" height="6" rx="3" fill="#fff" stroke="#111" stroke-width="1.1"/><ellipse cx="3.5" cy="0" rx="1.6" ry="3" fill="#fff" stroke="#111" stroke-width="1"/></g>
<g transform="translate(2026 1138) rotate(-30)"><rect x="-3.5" y="-3" width="7" height="6" rx="3" fill="#fff" stroke="#111" stroke-width="1.1"/><ellipse cx="3.5" cy="0" rx="1.6" ry="3" fill="#fff" stroke="#111" stroke-width="1"/></g>
<g transform="translate(2048 1121) rotate(-30)"><rect x="-3.5" y="-3" width="7" height="6" rx="3" fill="#fff" stroke="#111" stroke-width="1.1"/><ellipse cx="3.5" cy="0" rx="1.6" ry="3" fill="#fff" stroke="#111" stroke-width="1"/></g>
<g transform="translate(2062 1114) rotate(-30)"><rect x="-3.5" y="-3" width="7" height="6" rx="3" fill="#fff" stroke="#111" stroke-width="1.1"/><ellipse cx="3.5" cy="0" rx="1.6" ry="3" fill="#fff" stroke="#111" stroke-width="1"/></g>
<g transform="translate(2072 1129) rotate(-30)"><rect x="-3.5" y="-3" width="7" height="6" rx="3" fill="#fff" stroke="#111" stroke-width="1.1"/><ellipse cx="3.5" cy="0" rx="1.6" ry="3" fill="#fff" stroke="#111" stroke-width="1"/></g>
<g transform="translate(2086 1101) rotate(-30)"><rect x="-3.5" y="-3" width="7" height="6" rx="3" fill="#fff" stroke="#111" stroke-width="1.1"/><ellipse cx="3.5" cy="0" rx="1.6" ry="3" fill="#fff" stroke="#111" stroke-width="1"/></g>
<g transform="translate(2089 1090) rotate(-30)"><rect x="-3.5" y="-3" width="7" height="6" rx="3" fill="#fff" stroke="#111" stroke-width="1.1"/><ellipse cx="3.5" cy="0" rx="1.6" ry="3" fill="#fff" stroke="#111" stroke-width="1"/></g>
<g transform="translate(2104 1080) rotate(-30)"><rect x="-3.5" y="-3" width="7" height="6" rx="3" fill="#fff" stroke="#111" stroke-width="1.1"/><ellipse cx="3.5" cy="0" rx="1.6" ry="3" fill="#fff" stroke="#111" stroke-width="1"/></g>
<g transform="translate(2100 1118) rotate(-30)"><rect x="-3.5" y="-3" width="7" height="6" rx="3" fill="#fff" stroke="#111" stroke-width="1.1"/><ellipse cx="3.5" cy="0" rx="1.6" ry="3" fill="#fff" stroke="#111" stroke-width="1"/></g>
<g transform="translate(2093 1160) rotate(-30)"><rect x="-3.5" y="-3" width="7" height="6" rx="3" fill="#fff" stroke="#111" stroke-width="1.1"/><ellipse cx="3.5" cy="0" rx="1.6" ry="3" fill="#fff" stroke="#111" stroke-width="1"/></g>
<g transform="translate(2097 1176) rotate(-30)"><rect x="-3.5" y="-3" width="7" height="6" rx="3" fill="#fff" stroke="#111" stroke-width="1.1"/><ellipse cx="3.5" cy="0" rx="1.6" ry="3" fill="#fff" stroke="#111" stroke-width="1"/></g>
<g transform="translate(2075 1166) rotate(-30)"><rect x="-3.5" y="-3" width="7" height="6" rx="3" fill="#fff" stroke="#111" stroke-width="1.1"/><ellipse cx="3.5" cy="0" rx="1.6" ry="3" fill="#fff" stroke="#111" stroke-width="1"/></g>
<g transform="translate(2072 1193) rotate(-30)"><rect x="-3.5" y="-3" width="7" height="6" rx="3" fill="#fff" stroke="#111" stroke-width="1.1"/><ellipse cx="3.5" cy="0" rx="1.6" ry="3" fill="#fff" stroke="#111" stroke-width="1"/></g>
<g transform="translate(2032 1194) rotate(-30)"><rect x="-3.5" y="-3" width="7" height="6" rx="3" fill="#fff" stroke="#111" stroke-width="1.1"/><ellipse cx="3.5" cy="0" rx="1.6" ry="3" fill="#fff" stroke="#111" stroke-width="1"/></g>
<g transform="translate(2015 1176) rotate(-30)"><rect x="-3.5" y="-3" width="7" height="6" rx="3" fill="#fff" stroke="#111" stroke-width="1.1"/><ellipse cx="3.5" cy="0" rx="1.6" ry="3" fill="#fff" stroke="#111" stroke-width="1"/></g>
<g transform="translate(1997 1218) rotate(-30)"><rect x="-3.5" y="-3" width="7" height="6" rx="3" fill="#fff" stroke="#111" stroke-width="1.1"/><ellipse cx="3.5" cy="0" rx="1.6" ry="3" fill="#fff" stroke="#111" stroke-width="1"/></g>
<g transform="translate(2029 1224) rotate(-30)"><rect x="-3.5" y="-3" width="7" height="6" rx="3" fill="#fff" stroke="#111" stroke-width="1.1"/><ellipse cx="3.5" cy="0" rx="1.6" ry="3" fill="#fff" stroke="#111" stroke-width="1"/></g>
<g transform="translate(2049 1208) rotate(-30)"><rect x="-3.5" y="-3" width="7" height="6" rx="3" fill="#fff" stroke="#111" stroke-width="1.1"/><ellipse cx="3.5" cy="0" rx="1.6" ry="3" fill="#fff" stroke="#111" stroke-width="1"/></g>
<path d="M1890 1296 L1914 1280 L2101.5 1167" fill="none" stroke="#1a1a1a" stroke-width="1.2" />
<path d="M1929 1312.5 L2101.5 1199" fill="none" stroke="#333" stroke-width="1.0" />
<path d="M1925 1290 L2101 1183" fill="none" stroke="#777" stroke-width="0.7" />
<path d="M1925 1273.4 L1926 1315.1" stroke="#777" stroke-width="0.7"/>
<path d="M1935 1267.4 L1936 1308.6" stroke="#777" stroke-width="0.7"/>
<path d="M1945 1261.3 L1946 1302" stroke="#777" stroke-width="0.7"/>
<path d="M1955 1255.3 L1956 1295.4" stroke="#777" stroke-width="0.7"/>
<path d="M1965 1249.3 L1966 1288.8" stroke="#777" stroke-width="0.7"/>
<path d="M1975 1243.3 L1976 1282.2" stroke="#777" stroke-width="0.7"/>
<path d="M1985 1237.3 L1986 1275.7" stroke="#777" stroke-width="0.7"/>
<path d="M1995 1231.2 L1996 1269.1" stroke="#777" stroke-width="0.7"/>
<path d="M2005 1225.2 L2006 1262.5" stroke="#777" stroke-width="0.7"/>
<path d="M2015 1219.2 L2016 1255.9" stroke="#777" stroke-width="0.7"/>
<path d="M2025 1213.2 L2026 1249.3" stroke="#777" stroke-width="0.7"/>
<path d="M2035 1207.2 L2036 1242.8" stroke="#777" stroke-width="0.7"/>
<path d="M2045 1201.1 L2046 1236.2" stroke="#777" stroke-width="0.7"/>
<path d="M2055 1195.1 L2056 1229.6" stroke="#777" stroke-width="0.7"/>
<path d="M2065 1189.1 L2066 1223" stroke="#777" stroke-width="0.7"/>
<path d="M2075 1183.1 L2076 1216.4" stroke="#777" stroke-width="0.7"/>
<path d="M2085 1177.1 L2086 1209.9" stroke="#777" stroke-width="0.7"/>
<path d="M2095 1171 L2096 1203.3" stroke="#777" stroke-width="0.7"/>
<path d="M1983.6 1287.2 L2015.8 1233.6 L2035.5 1248 L2035.5 1345 L1983.6 1345 Z" fill="#fff" stroke="none" stroke-width="0" />
<path d="M1983.6 1287.2 L2015.8 1233.6 L2035.5 1248 L2035.5 1340.8" fill="none" stroke="#1a1a1a" stroke-width="1.3" />
<path d="M1990 1284 L2033 1254" fill="none" stroke="#555" stroke-width="0.8" />
<path d="M1793 1291 c-6 -2 -8 -10 -2 -13 c3 -2 5 -1 7 -4 c4 -3 10 0 10 5 c0 4 4 5 3 9 c-1 4 -6 5 -9 5" fill="none" stroke="#333" stroke-width="0.9"/>
<path d="M1830 1271 c-6 -2 -8 -10 -2 -13 c3 -2 5 -1 7 -4 c4 -3 10 0 10 5 c0 4 4 5 3 9 c-1 4 -6 5 -9 5" fill="none" stroke="#333" stroke-width="0.9"/>
<path d="M1862 1245 c-6 -2 -8 -10 -2 -13 c3 -2 5 -1 7 -4 c4 -3 10 0 10 5 c0 4 4 5 3 9 c-1 4 -6 5 -9 5" fill="none" stroke="#333" stroke-width="0.9"/>
<path d="M1888 1229 c-6 -2 -8 -10 -2 -13 c3 -2 5 -1 7 -4 c4 -3 10 0 10 5 c0 4 4 5 3 9 c-1 4 -6 5 -9 5" fill="none" stroke="#333" stroke-width="0.9"/>
<path d="M1923 1205 c-6 -2 -8 -10 -2 -13 c3 -2 5 -1 7 -4 c4 -3 10 0 10 5 c0 4 4 5 3 9 c-1 4 -6 5 -9 5" fill="none" stroke="#333" stroke-width="0.9"/>
<path d="M1965 1178 c-6 -2 -8 -10 -2 -13 c3 -2 5 -1 7 -4 c4 -3 10 0 10 5 c0 4 4 5 3 9 c-1 4 -6 5 -9 5" fill="none" stroke="#333" stroke-width="0.9"/>
<path d="M2008 1150 c-6 -2 -8 -10 -2 -13 c3 -2 5 -1 7 -4 c4 -3 10 0 10 5 c0 4 4 5 3 9 c-1 4 -6 5 -9 5" fill="none" stroke="#333" stroke-width="0.9"/>
<path d="M2044 1126 c-6 -2 -8 -10 -2 -13 c3 -2 5 -1 7 -4 c4 -3 10 0 10 5 c0 4 4 5 3 9 c-1 4 -6 5 -9 5" fill="none" stroke="#333" stroke-width="0.9"/>
<path d="M2082 1106 c-6 -2 -8 -10 -2 -13 c3 -2 5 -1 7 -4 c4 -3 10 0 10 5 c0 4 4 5 3 9 c-1 4 -6 5 -9 5" fill="none" stroke="#333" stroke-width="0.9"/>
<path d="M2100 1085 c-6 -2 -8 -10 -2 -13 c3 -2 5 -1 7 -4 c4 -3 10 0 10 5 c0 4 4 5 3 9 c-1 4 -6 5 -9 5" fill="none" stroke="#333" stroke-width="0.9"/>
<path d="M1843 1276 L1850 1301 L1876 1288 M1897 1276 L1905 1300 M1938 1253 L1943 1282" fill="none" stroke="#1a1a1a" stroke-width="1.8" />
<path d="M1934 1232 l18 -9" stroke="#222" stroke-width="0.9"/>
<path d="M1934.3 1234 l18 -9" stroke="#222" stroke-width="0.9"/>
<path d="M1934.6 1236 l18 -9" stroke="#222" stroke-width="0.9"/>
<path d="M1934.9 1238 l18 -9" stroke="#222" stroke-width="0.9"/>
<path d="M1935.2 1240 l18 -9" stroke="#222" stroke-width="0.9"/>
<path d="M1935.5 1242 l18 -9" stroke="#222" stroke-width="0.9"/>
<path d="M1965 1215 l14 -8 l3 16 l-14 7 z M2040 1150 l12 -6 l3 14 l-12 6 z" fill="none" stroke="#1a1a1a" stroke-width="1.3" />
<path d="M1820 1300 l12 -6 l10 18 l-12 6 z" fill="none" stroke="#1a1a1a" stroke-width="1.2" />
<path d="M2000 1195 L2030 1178 M1998 1202 L2030 1185 M1990 1155 l20 -10 M1993 1162 l20 -10" fill="none" stroke="#1a1a1a" stroke-width="1.0" />
<path d="M2092 1097 l18 -10 l10 8 l-2 14 l-16 10 l-10 -6 z" fill="none" stroke="#1a1a1a" stroke-width="1.4" />
<path d="M2102 1093 l0 14 M2096 1105 l14 -8 M2104 1103 l10 -6" fill="none" stroke="#1a1a1a" stroke-width="1.1" />
<circle cx="2114" cy="1103" r="4" fill="none" stroke="#111" stroke-width="1.2"/>
<path d="M2088 1140 l18 -10 l10 8 l-2 14 l-16 10 l-10 -6 z" fill="none" stroke="#1a1a1a" stroke-width="1.4" />
<path d="M2098 1136 l0 14 M2092 1148 l14 -8 M2100 1146 l10 -6" fill="none" stroke="#1a1a1a" stroke-width="1.1" />
<circle cx="2110" cy="1146" r="4" fill="none" stroke="#111" stroke-width="1.2"/>
<path d="M2065 1108 l14 -6 l12 16 l-12 8 z" fill="none" stroke="#1a1a1a" stroke-width="1.2" />
<path d="M2070 1112 l6 8 M2076 1108 l6 8" fill="none" stroke="#1a1a1a" stroke-width="1.3" />
<path d="M1800 1302 C1805 1290 1820 1285 1832 1290 C1842 1296 1838 1280 1846 1272" fill="none" stroke="#1a1a1a" stroke-width="1.1" />
<path d="M1812 1306 C1822 1300 1840 1302 1846 1290" fill="none" stroke="#1a1a1a" stroke-width="1" />
<path d="M1808 1283 l10 -3 l3 8 l-10 3 z" fill="#333" stroke="#1a1a1a" stroke-width="1.2" />
<path d="M1806 1300 l10 -2 l3 8 l-10 3 z" fill="#222" stroke="#1a1a1a" stroke-width="1.2" />
<path d="M1818 1272 l8 -3 l2 6 l-8 3 z" fill="#444" stroke="#1a1a1a" stroke-width="1" />
<path d="M1834 1252 C1832 1245 1840 1240 1845 1246 C1850 1254 1842 1260 1836 1258" fill="none" stroke="#1a1a1a" stroke-width="1.1" />
<path d="M1924 1342 L1950 1326" fill="none" stroke="#1a1a1a" stroke-width="1" />
<g transform="translate(2081.8 1228.4)"><circle r="10" fill="#fff" stroke="#111" stroke-width="1.4"/><circle r="5" fill="none" stroke="#111" stroke-width="1.2"/><path d="M-6 2 l10 -6" stroke="#111" stroke-width="1.5"/></g>
<path d="M2048 1264 L2066 1257 L2081 1264 L2068 1272 Z M2048 1278 L2066 1272 L2081 1280 L2068 1288 Z" fill="none" stroke="#1a1a1a" stroke-width="1.2" />
<path d="M2072 1270 L2072 1292 M2068 1272 L2068 1290" fill="none" stroke="#1a1a1a" stroke-width="1.1" />
<circle cx="2077" cy="1282" r="5" fill="#fff" stroke="#111" stroke-width="1.4"/>
<path d="M2023 1375 L2030 1371 L2052 1385 L2046 1390 Z M2042 1390 L2040 1410 M2044 1388 L2046 1405" fill="none" stroke="#1a1a1a" stroke-width="1.2" />
<circle cx="2049" cy="1394" r="5" fill="#fff" stroke="#111" stroke-width="1.4"/>
<path d="M1945 1460 L1968 1450 L1975 1465 L1952 1478 Z" fill="none" stroke="#1a1a1a" stroke-width="1.2" />
<path d="M1950 1466 L1968 1458 L1970 1468 L1954 1475 Z" fill="#fff" stroke="#1a1a1a" stroke-width="1" />
<path d="M1372.9 973.9 L1385.9 961 L1406.8 968.4 L1407.4 979.5 L1385.3 991.8 L1373.6 985.6 Z" fill="#fff" stroke="#1a1a1a" stroke-width="1.4" />
<path d="M1372.9 973.9 L1386 980 L1406.8 968.4 M1386 980 L1385.3 991.8" fill="none" stroke="#1a1a1a" stroke-width="1.2" />
<path d="M1385 962 C1388 958 1392 957 1396 960 L1399 962 L1395 968 L1385 968 Z" fill="none" stroke="#1a1a1a" stroke-width="1.2" />
<path d="M1376 970 L1384 965 L1392 970 L1385 975 Z" fill="none" stroke="#1a1a1a" stroke-width="1.1" />
<path d="M1375 976 L1375 986 M1378 977 L1378 988" fill="none" stroke="#1a1a1a" stroke-width="1" />
<path d="M1390 986 l6 -4 M1398 978 l5 -3" fill="none" stroke="#1a1a1a" stroke-width="2" />
<path d="M1402.5 981.3 L1413 992.4 L1438.3 975.2 C1441 976 1444 975 1446.3 964.7 C1446 960 1446 958 1445 955.5 L1427.8 930.8 L1426.5 921" fill="none" stroke="#1a1a1a" stroke-width="2.2" />
<path d="M1402.5 981.3 L1413 992.4 L1438.3 975.2 C1441 976 1444 975 1446.3 964.7 C1446 960 1446 958 1445 955.5 L1427.8 930.8 L1426.5 921" fill="none" stroke="#fff" stroke-width="0.8" />
<path d="M1422.2 907.4 L1431.5 905.5 L1430.9 920.3 L1423.5 921 Z" fill="#444" stroke="#1a1a1a" stroke-width="1.3" />
<path d="M1423 913 L1431 912" fill="none" stroke="#fff" stroke-width="1" />
<g transform="translate(0 0)"><path d="M1497.9 947.4 L1518 953 L1518.3 941.1 L1528.5 938.3 L1530.8 955 L1540 958 C1545 945 1552 934 1558 929.3 L1563.6 929.3 L1570 932 L1578 929 L1578.3 919.1 L1589.7 921.9 L1591.9 934.9 L1595.3 924.7 L1601 927 L1602.1 937.2 L1607.8 940.6 L1555.1 970.6 C1550 972 1545 972 1541 971.2 Z" fill="#fff" stroke="#111" stroke-width="1.4"/><path d="M1497.9 948.5 L1529.6 966.6 M1521 942 L1521 954 M1525 941 L1526 955 M1558 930 L1580 958 M1562 930 L1584 956 M1566 931 L1588 953 M1570 933 L1599 946 M1572 939 L1603 951 M1574 944 L1605 954 M1578 929 L1594 936 M1580 921 L1582 931 M1584 922 L1586 932 M1540 958 L1545 962" fill="none" stroke="#111" stroke-width="1.1"/><path d="M1537 946 l8 -4 l3 12 l-8 4 z M1533 960 l5 -2 l2 9 l-5 2 z M1540 958 l5 -2 l2 9 l-5 2 z M1552 955 l10 -4 l4 14 l-10 4 z" fill="#333" stroke="#111" stroke-width="1"/><path d="M1592 940 l5 -2 l2 4 l-5 2 z" fill="#222"/></g>
<g transform="translate(169.5 135.6)"><path d="M1497.9 947.4 L1518 953 L1518.3 941.1 L1528.5 938.3 L1530.8 955 L1540 958 C1545 945 1552 934 1558 929.3 L1563.6 929.3 L1570 932 L1578 929 L1578.3 919.1 L1589.7 921.9 L1591.9 934.9 L1595.3 924.7 L1601 927 L1602.1 937.2 L1607.8 940.6 L1555.1 970.6 C1550 972 1545 972 1541 971.2 Z" fill="#fff" stroke="#111" stroke-width="1.4"/><path d="M1497.9 948.5 L1529.6 966.6 M1521 942 L1521 954 M1525 941 L1526 955 M1558 930 L1580 958 M1562 930 L1584 956 M1566 931 L1588 953 M1570 933 L1599 946 M1572 939 L1603 951 M1574 944 L1605 954 M1578 929 L1594 936 M1580 921 L1582 931 M1584 922 L1586 932 M1540 958 L1545 962" fill="none" stroke="#111" stroke-width="1.1"/><path d="M1537 946 l8 -4 l3 12 l-8 4 z M1533 960 l5 -2 l2 9 l-5 2 z M1540 958 l5 -2 l2 9 l-5 2 z M1552 955 l10 -4 l4 14 l-10 4 z" fill="#333" stroke="#111" stroke-width="1"/><path d="M1592 940 l5 -2 l2 4 l-5 2 z" fill="#222"/></g>
<path d="M1796.7 1037.4 L1823 1020 L1852 1031 L1854.6 1042.3 L1823.2 1061.8 L1800.9 1049.9 Z" fill="#fff" stroke="#1a1a1a" stroke-width="1.4" />
<path d="M1796.7 1037.4 L1822.5 1047.1 L1853.9 1033.2 M1822.5 1047.1 L1823.2 1061.8 M1842 1040 L1842 1052" fill="none" stroke="#1a1a1a" stroke-width="1.2" />
<path d="M1807 1031 L1814 1026 L1827 1032 L1820 1039 Z M1815 1036 L1822 1031 L1834 1037 L1827 1043 Z" fill="#fff" stroke="#1a1a1a" stroke-width="1.2" />
<path d="M1823 1021 L1831 1016 L1845 1022 L1838 1028 Z M1831 1026 L1839 1021 L1850 1027 L1843 1033 Z" fill="#fff" stroke="#1a1a1a" stroke-width="1.2" />
<path d="M1801 1046 L1820 1056 M1803 1050 l4 -4 l4 6 l4 -4" fill="none" stroke="#1a1a1a" stroke-width="1.8" />
<path d="M1829 1044 l10 -6 M1827 1050 l6 -3" fill="none" stroke="#1a1a1a" stroke-width="2.2" />
<path d="M1853.9 1033.2 C1860 1030 1866 1028 1872 1020 L1898.5 1004 C1905 1000 1910 1003 1922.9 1019.3 C1927 1020 1927 1014 1925.6 1008.8" fill="none" stroke="#1a1a1a" stroke-width="2.2" />
<path d="M1853.9 1033.2 C1860 1030 1866 1028 1872 1020 L1898.5 1004 C1905 1000 1910 1003 1922.9 1019.3 C1927 1020 1927 1014 1925.6 1008.8" fill="none" stroke="#fff" stroke-width="0.8" />
<path d="M1919.4 1007 L1931.9 1004 L1930 990 L1919 992 Z" fill="#444" stroke="#1a1a1a" stroke-width="1.3" />
<path d="M1920 999 L1930 997" fill="none" stroke="#fff" stroke-width="1" />
<path d="M1190.5 1235.6 L1192 1225 C1194 1215 1200 1205 1210 1196 C1240 1175 1300 1140 1408.3 1075.2 L1408 1070 L1415.3 1069.4 L1415.3 1074 L1424.7 1081 L1424 1084 L1209.3 1238 Z" fill="#fff" stroke="#1a1a1a" stroke-width="1.4" />
<path d="M1212 1234 L1423 1083 M1216 1230 L1421 1082" fill="none" stroke="#1a1a1a" stroke-width="1.1" />
<path d="M1220 1225 L1418 1080 M1200 1224 C1206 1212 1220 1200 1240 1188 L1410 1079" fill="none" stroke="#444" stroke-width="0.7" />
<path d="M1196 1218 L1214 1230 M1209 1204 L1221 1222 M1192 1231 L1209 1236" fill="none" stroke="#1a1a1a" stroke-width="0.8" />
<path d="M1190 1228 l4 4 l-2 4" fill="none" stroke="#1a1a1a" stroke-width="1.8" />
<path d="M1398 1351 C1410 1345 1425 1342 1440 1337 L1652 1219 L1656 1219.6 L1671.4 1222 L1670 1226 L1658 1227 L1654 1230 L1445 1344 C1430 1350 1410 1354 1396 1360 L1393 1358 Z" fill="#fff" stroke="#1a1a1a" stroke-width="1.4" />
<path d="M1400 1355 C1415 1349 1428 1346 1442 1340 L1653 1224" fill="none" stroke="#1a1a1a" stroke-width="0.9" />
<path d="M1450 1347 l0 5 c0 4 6 4 6 0 l0 -8" fill="none" stroke="#1a1a1a" stroke-width="1.2" />
<path d="M1480 1328 l0 5 c0 4 6 4 6 0 l0 -8" fill="none" stroke="#1a1a1a" stroke-width="1.2" />
<path d="M1494 1321 l0 5 c0 4 6 4 6 0 l0 -8" fill="none" stroke="#1a1a1a" stroke-width="1.2" />
<path d="M1518 1307 l0 5 c0 4 6 4 6 0 l0 -8" fill="none" stroke="#1a1a1a" stroke-width="1.2" />
<path d="M1531 1298 l0 5 c0 4 6 4 6 0 l0 -8" fill="none" stroke="#1a1a1a" stroke-width="1.2" />
<path d="M1543 1294 l0 5 c0 4 6 4 6 0 l0 -8" fill="none" stroke="#1a1a1a" stroke-width="1.2" />
<path d="M1557 1284 l0 5 c0 4 6 4 6 0 l0 -8" fill="none" stroke="#1a1a1a" stroke-width="1.2" />
<path d="M1569 1276 l0 5 c0 4 6 4 6 0 l0 -8" fill="none" stroke="#1a1a1a" stroke-width="1.2" />
<path d="M1587 1266 l0 5 c0 4 6 4 6 0 l0 -8" fill="none" stroke="#1a1a1a" stroke-width="1.2" />
<path d="M1608 1252 l0 5 c0 4 6 4 6 0 l0 -8" fill="none" stroke="#1a1a1a" stroke-width="1.2" />
<path d="M1617 1249 l0 5 c0 4 6 4 6 0 l0 -8" fill="none" stroke="#1a1a1a" stroke-width="1.2" />
<path d="M1628 1241 l0 5 c0 4 6 4 6 0 l0 -8" fill="none" stroke="#1a1a1a" stroke-width="1.2" />
<path d="M1647 1231 l0 5 c0 4 6 4 6 0 l0 -8" fill="none" stroke="#1a1a1a" stroke-width="1.2" />
<path d="M1400 1356 l14 -6 l6 8 l-14 6 z M1418 1350 l10 -5 l5 7 l-10 5 z" fill="#333" stroke="#1a1a1a" stroke-width="1.1" />
<path d="M1440 1344 l8 -4 M1455 1336 l8 -4 M1470 1328 l8 -4" fill="none" stroke="#1a1a1a" stroke-width="1.6" />
<path d="M1276 1221.6 C1275 1215 1285 1210 1297.1 1205.8 L1317 1219.2 L1304 1222 L1292 1228 L1292.4 1235.6 L1286 1236 L1285.4 1226 L1279 1226 Z" fill="#fff" stroke="#1a1a1a" stroke-width="1.3" />
<path d="M1276 1221.6 L1290 1216 L1304 1222 M1297 1214 l8 4 M1300 1210 l10 6" fill="none" stroke="#1a1a1a" stroke-width="1.1" />
<path d="M1300 1218 l6 -2 l4 4 l-6 3 z M1290 1220 l4 -2 l2 4 l-4 2 z" fill="#222" stroke="#1a1a1a" stroke-width="1" />
<path d="M1380 1261 C1388 1258 1396 1262 1402 1270 L1404 1276 L1400 1276 L1390 1270 L1380 1268 Z" fill="#fff" stroke="#1a1a1a" stroke-width="1.3" />
<path d="M1381 1264 L1398 1272 M1384 1266 l4 2 M1390 1268 l4 3" fill="none" stroke="#1a1a1a" stroke-width="1.5" />
<path d="M1394.4 1277 L1394.4 1291.5 C1396 1300 1405 1304 1410 1303 L1424 1301 L1426 1308" fill="none" stroke="#1a1a1a" stroke-width="2.3" />
<path d="M1394.4 1277 L1394.4 1291.5 C1396 1300 1405 1304 1410 1303 L1424 1301 L1426 1308" fill="none" stroke="#fff" stroke-width="0.8" />
<path d="M1423 1307 L1429 1305 L1432 1318 L1426 1320 Z" fill="#444" stroke="#1a1a1a" stroke-width="1.3" />
<path d="M1368.8 1414.9 C1345 1420 1308 1450 1299.1 1478.5 C1298 1490 1300 1496 1304.4 1499.4 L1323.5 1510.7 L1328 1506 L1330 1498 L1345 1506 L1352 1500 L1364.5 1497.6 Z" fill="#fff" stroke="#1a1a1a" stroke-width="1.3" />
<path d="M1365.3 1419.2 C1356 1428 1345 1440 1338 1450 C1330 1462 1322 1480 1321.8 1504.6" fill="none" stroke="#1a1a1a" stroke-width="1.2" />
<path d="M1362 1424 C1350 1436 1340 1448 1336 1456" fill="none" stroke="#1a1a1a" stroke-width="0.9" />
<path d="M1366 1418 L1362 1496 M1359 1430 L1356 1446 L1348 1452" fill="none" stroke="#1a1a1a" stroke-width="1.0" />
<circle cx="1333" cy="1474" r="5.5" fill="none" stroke="#111" stroke-width="2"/>
<path d="M1342 1480 L1354 1476 L1358 1492 L1346 1496 Z" fill="none" stroke="#1a1a1a" stroke-width="1.3" />
<path d="M1327 1488 l3 8 l4 -1 M1346 1484 l8 -3 M1350 1500 l2 6" fill="none" stroke="#1a1a1a" stroke-width="1.6" />
<path d="M1340 1468 l6 -4 M1344 1460 l8 2" fill="none" stroke="#1a1a1a" stroke-width="1.2" />
<path d="M554 1081 C560 1050 590 1020 608 992 L612 990 L615 1006 C610 1040 605 1060 601 1076 L590 1088 L579 1092 Z" fill="#fff" stroke="#1a1a1a" stroke-width="1.4" />
<path d="M579 1092 C585 1060 595 1040 597 1012" fill="none" stroke="#1a1a1a" stroke-width="1.2" />
<g transform="translate(1222 1133)"><path d="M-14 4 L4 -7 L14 -3 L12 3 L-4 12 L-14 8 Z" fill="#fff" stroke="#111" stroke-width="1.4"/><path d="M-10 4 L4 -4 L10 -1 L-4 8 Z" fill="#333"/><path d="M-14 6 L-4 10 L12 1" fill="none" stroke="#111" stroke-width="1"/></g>
<g transform="translate(1962 1535)"><path d="M-14 4 L4 -7 L14 -3 L12 3 L-4 12 L-14 8 Z" fill="#fff" stroke="#111" stroke-width="1.4"/><path d="M-10 4 L4 -4 L10 -1 L-4 8 Z" fill="#333"/><path d="M-14 6 L-4 10 L12 1" fill="none" stroke="#111" stroke-width="1"/></g>
<g transform="translate(1441 754)"><path d="M-8 -2 L2 -8 L8 -2 L6 8 L-4 10 Z" fill="#fff" stroke="#111" stroke-width="1.5"/><path d="M-4 0 L3 -4 L5 3 L-2 6 Z" fill="#222"/><path d="M-8 -2 L-4 10" stroke="#111" stroke-width="1.5"/></g>
<g transform="translate(2176 1172)"><path d="M-8 -2 L2 -8 L8 -2 L6 8 L-4 10 Z" fill="#fff" stroke="#111" stroke-width="1.5"/><path d="M-4 0 L3 -4 L5 3 L-2 6 Z" fill="#222"/><path d="M-8 -2 L-4 10" stroke="#111" stroke-width="1.5"/></g>
<g transform="translate(1412 772) rotate(-32)"><rect x="0" y="-2" width="16" height="4" rx="1.5" fill="#fff" stroke="#111" stroke-width="1.2"/><ellipse cx="16" cy="0" rx="2" ry="4" fill="#fff" stroke="#111" stroke-width="1.2"/></g>
<g transform="translate(1306 1012) rotate(70)"><rect x="0" y="-2" width="22" height="4" rx="1.5" fill="#fff" stroke="#111" stroke-width="1.2"/><ellipse cx="22" cy="0" rx="2" ry="4" fill="#fff" stroke="#111" stroke-width="1.2"/></g>
<g transform="translate(1126 1142) rotate(88)"><rect x="0" y="-2" width="22" height="4" rx="1.5" fill="#fff" stroke="#111" stroke-width="1.2"/><ellipse cx="22" cy="0" rx="2" ry="4" fill="#fff" stroke="#111" stroke-width="1.2"/></g>
<g transform="translate(1604 1414) rotate(-35)"><rect x="0" y="-2" width="18" height="4" rx="1.5" fill="#fff" stroke="#111" stroke-width="1.2"/><ellipse cx="18" cy="0" rx="2" ry="4" fill="#fff" stroke="#111" stroke-width="1.2"/></g>
<g transform="translate(1604 1450) rotate(-28)"><rect x="0" y="-2" width="18" height="4" rx="1.5" fill="#fff" stroke="#111" stroke-width="1.2"/><ellipse cx="18" cy="0" rx="2" ry="4" fill="#fff" stroke="#111" stroke-width="1.2"/></g>
<g transform="translate(2128 1204) rotate(-30)"><rect x="0" y="-2" width="18" height="4" rx="1.5" fill="#fff" stroke="#111" stroke-width="1.2"/><ellipse cx="18" cy="0" rx="2" ry="4" fill="#fff" stroke="#111" stroke-width="1.2"/></g>
<g transform="translate(873.4 387.6)"><ellipse cx="-7.5" cy="-4.5" rx="3.2" ry="2.6" transform="rotate(-25 -7.5 -4.5)" fill="#eee" stroke="#111" stroke-width="1.8"/><circle cx="-0.5" cy="-2.5" r="6" fill="#111"/><circle cx="4.5" cy="2" r="5.5" fill="#111"/><circle cx="0.5" cy="4" r="5" fill="#111"/><path d="M-2 -1 l2 -4 M3 4 l2 -3 M-1 5 l2 -2" stroke="#999" stroke-width="0.8"/></g>
<g transform="translate(867.9 430.7)"><ellipse cx="-7.5" cy="-4.5" rx="3.2" ry="2.6" transform="rotate(-25 -7.5 -4.5)" fill="#eee" stroke="#111" stroke-width="1.8"/><circle cx="-0.5" cy="-2.5" r="6" fill="#111"/><circle cx="4.5" cy="2" r="5.5" fill="#111"/><circle cx="0.5" cy="4" r="5" fill="#111"/><path d="M-2 -1 l2 -4 M3 4 l2 -3 M-1 5 l2 -2" stroke="#999" stroke-width="0.8"/></g>
<g transform="translate(849.6 576)"><ellipse cx="-7.5" cy="-4.5" rx="3.2" ry="2.6" transform="rotate(-25 -7.5 -4.5)" fill="#eee" stroke="#111" stroke-width="1.8"/><circle cx="-0.5" cy="-2.5" r="6" fill="#111"/><circle cx="4.5" cy="2" r="5.5" fill="#111"/><circle cx="0.5" cy="4" r="5" fill="#111"/><path d="M-2 -1 l2 -4 M3 4 l2 -3 M-1 5 l2 -2" stroke="#999" stroke-width="0.8"/></g>
<g transform="translate(509.4 616.2)"><ellipse cx="-7.5" cy="-4.5" rx="3.2" ry="2.6" transform="rotate(-25 -7.5 -4.5)" fill="#eee" stroke="#111" stroke-width="1.8"/><circle cx="-0.5" cy="-2.5" r="6" fill="#111"/><circle cx="4.5" cy="2" r="5.5" fill="#111"/><circle cx="0.5" cy="4" r="5" fill="#111"/><path d="M-2 -1 l2 -4 M3 4 l2 -3 M-1 5 l2 -2" stroke="#999" stroke-width="0.8"/></g>
<g transform="translate(814.9 683.9)"><ellipse cx="-7.5" cy="-4.5" rx="3.2" ry="2.6" transform="rotate(-25 -7.5 -4.5)" fill="#eee" stroke="#111" stroke-width="1.8"/><circle cx="-0.5" cy="-2.5" r="6" fill="#111"/><circle cx="4.5" cy="2" r="5.5" fill="#111"/><circle cx="0.5" cy="4" r="5" fill="#111"/><path d="M-2 -1 l2 -4 M3 4 l2 -3 M-1 5 l2 -2" stroke="#999" stroke-width="0.8"/></g>
<g transform="translate(494.8 750.5)"><ellipse cx="-7.5" cy="-4.5" rx="3.2" ry="2.6" transform="rotate(-25 -7.5 -4.5)" fill="#eee" stroke="#111" stroke-width="1.8"/><circle cx="-0.5" cy="-2.5" r="6" fill="#111"/><circle cx="4.5" cy="2" r="5.5" fill="#111"/><circle cx="0.5" cy="4" r="5" fill="#111"/><path d="M-2 -1 l2 -4 M3 4 l2 -3 M-1 5 l2 -2" stroke="#999" stroke-width="0.8"/></g>
<g transform="translate(694.1 763.7)"><ellipse cx="-7.5" cy="-4.5" rx="3.2" ry="2.6" transform="rotate(-25 -7.5 -4.5)" fill="#eee" stroke="#111" stroke-width="1.8"/><circle cx="-0.5" cy="-2.5" r="6" fill="#111"/><circle cx="4.5" cy="2" r="5.5" fill="#111"/><circle cx="0.5" cy="4" r="5" fill="#111"/><path d="M-2 -1 l2 -4 M3 4 l2 -3 M-1 5 l2 -2" stroke="#999" stroke-width="0.8"/></g>
<g transform="translate(614.8 813)"><ellipse cx="-7.5" cy="-4.5" rx="3.2" ry="2.6" transform="rotate(-25 -7.5 -4.5)" fill="#eee" stroke="#111" stroke-width="1.8"/><circle cx="-0.5" cy="-2.5" r="6" fill="#111"/><circle cx="4.5" cy="2" r="5.5" fill="#111"/><circle cx="0.5" cy="4" r="5" fill="#111"/><path d="M-2 -1 l2 -4 M3 4 l2 -3 M-1 5 l2 -2" stroke="#999" stroke-width="0.8"/></g>
<g transform="translate(500.2 861.3)"><ellipse cx="-7.5" cy="-4.5" rx="3.2" ry="2.6" transform="rotate(-25 -7.5 -4.5)" fill="#eee" stroke="#111" stroke-width="1.8"/><circle cx="-0.5" cy="-2.5" r="6" fill="#111"/><circle cx="4.5" cy="2" r="5.5" fill="#111"/><circle cx="0.5" cy="4" r="5" fill="#111"/><path d="M-2 -1 l2 -4 M3 4 l2 -3 M-1 5 l2 -2" stroke="#999" stroke-width="0.8"/></g>
<g transform="translate(2480.7 1314.6)"><ellipse cx="-7.5" cy="-4.5" rx="3.2" ry="2.6" transform="rotate(-25 -7.5 -4.5)" fill="#eee" stroke="#111" stroke-width="1.8"/><circle cx="-0.5" cy="-2.5" r="6" fill="#111"/><circle cx="4.5" cy="2" r="5.5" fill="#111"/><circle cx="0.5" cy="4" r="5" fill="#111"/><path d="M-2 -1 l2 -4 M3 4 l2 -3 M-1 5 l2 -2" stroke="#999" stroke-width="0.8"/></g>
<g transform="translate(2475 1356.7)"><ellipse cx="-7.5" cy="-4.5" rx="3.2" ry="2.6" transform="rotate(-25 -7.5 -4.5)" fill="#eee" stroke="#111" stroke-width="1.8"/><circle cx="-0.5" cy="-2.5" r="6" fill="#111"/><circle cx="4.5" cy="2" r="5.5" fill="#111"/><circle cx="0.5" cy="4" r="5" fill="#111"/><path d="M-2 -1 l2 -4 M3 4 l2 -3 M-1 5 l2 -2" stroke="#999" stroke-width="0.8"/></g>
<g transform="translate(2443.2 1493.9)"><ellipse cx="-7.5" cy="-4.5" rx="3.2" ry="2.6" transform="rotate(-25 -7.5 -4.5)" fill="#eee" stroke="#111" stroke-width="1.8"/><circle cx="-0.5" cy="-2.5" r="6" fill="#111"/><circle cx="4.5" cy="2" r="5.5" fill="#111"/><circle cx="0.5" cy="4" r="5" fill="#111"/><path d="M-2 -1 l2 -4 M3 4 l2 -3 M-1 5 l2 -2" stroke="#999" stroke-width="0.8"/></g>
<g transform="translate(2109.3 1538.4)"><ellipse cx="-7.5" cy="-4.5" rx="3.2" ry="2.6" transform="rotate(-25 -7.5 -4.5)" fill="#eee" stroke="#111" stroke-width="1.8"/><circle cx="-0.5" cy="-2.5" r="6" fill="#111"/><circle cx="4.5" cy="2" r="5.5" fill="#111"/><circle cx="0.5" cy="4" r="5" fill="#111"/><path d="M-2 -1 l2 -4 M3 4 l2 -3 M-1 5 l2 -2" stroke="#999" stroke-width="0.8"/></g>
<g transform="translate(2415.1 1607.2)"><ellipse cx="-7.5" cy="-4.5" rx="3.2" ry="2.6" transform="rotate(-25 -7.5 -4.5)" fill="#eee" stroke="#111" stroke-width="1.8"/><circle cx="-0.5" cy="-2.5" r="6" fill="#111"/><circle cx="4.5" cy="2" r="5.5" fill="#111"/><circle cx="0.5" cy="4" r="5" fill="#111"/><path d="M-2 -1 l2 -4 M3 4 l2 -3 M-1 5 l2 -2" stroke="#999" stroke-width="0.8"/></g>
<g transform="translate(2091 1670.5)"><ellipse cx="-7.5" cy="-4.5" rx="3.2" ry="2.6" transform="rotate(-25 -7.5 -4.5)" fill="#eee" stroke="#111" stroke-width="1.8"/><circle cx="-0.5" cy="-2.5" r="6" fill="#111"/><circle cx="4.5" cy="2" r="5.5" fill="#111"/><circle cx="0.5" cy="4" r="5" fill="#111"/><path d="M-2 -1 l2 -4 M3 4 l2 -3 M-1 5 l2 -2" stroke="#999" stroke-width="0.8"/></g>
<g transform="translate(2299 1687.8)"><ellipse cx="-7.5" cy="-4.5" rx="3.2" ry="2.6" transform="rotate(-25 -7.5 -4.5)" fill="#eee" stroke="#111" stroke-width="1.8"/><circle cx="-0.5" cy="-2.5" r="6" fill="#111"/><circle cx="4.5" cy="2" r="5.5" fill="#111"/><circle cx="0.5" cy="4" r="5" fill="#111"/><path d="M-2 -1 l2 -4 M3 4 l2 -3 M-1 5 l2 -2" stroke="#999" stroke-width="0.8"/></g>
<g transform="translate(2218.4 1736)"><ellipse cx="-7.5" cy="-4.5" rx="3.2" ry="2.6" transform="rotate(-25 -7.5 -4.5)" fill="#eee" stroke="#111" stroke-width="1.8"/><circle cx="-0.5" cy="-2.5" r="6" fill="#111"/><circle cx="4.5" cy="2" r="5.5" fill="#111"/><circle cx="0.5" cy="4" r="5" fill="#111"/><path d="M-2 -1 l2 -4 M3 4 l2 -3 M-1 5 l2 -2" stroke="#999" stroke-width="0.8"/></g>
<g transform="translate(2096.7 1780.5)"><ellipse cx="-7.5" cy="-4.5" rx="3.2" ry="2.6" transform="rotate(-25 -7.5 -4.5)" fill="#eee" stroke="#111" stroke-width="1.8"/><circle cx="-0.5" cy="-2.5" r="6" fill="#111"/><circle cx="4.5" cy="2" r="5.5" fill="#111"/><circle cx="0.5" cy="4" r="5" fill="#111"/><path d="M-2 -1 l2 -4 M3 4 l2 -3 M-1 5 l2 -2" stroke="#999" stroke-width="0.8"/></g>
<g transform="translate(990.3 747)"><path d="M-6 0 C-6 -5 -3 -6 0 -6 C3 -6 6 -5 6 -1 L7 -2 L5 2 C3 5 -3 5 -5 2 L-7 -1 Z" fill="#111" stroke="#111" stroke-width="1"/><path d="M-2 -3 l2 -1 M2 -2 l1 1" stroke="#777" stroke-width="0.8"/></g>
<g transform="translate(980.7 764)"><path d="M-6 0 C-6 -5 -3 -6 0 -6 C3 -6 6 -5 6 -1 L7 -2 L5 2 C3 5 -3 5 -5 2 L-7 -1 Z" fill="#111" stroke="#111" stroke-width="1"/><path d="M-2 -3 l2 -1 M2 -2 l1 1" stroke="#777" stroke-width="0.8"/></g>
<g transform="translate(1718 1190)"><path d="M-6 0 C-6 -5 -3 -6 0 -6 C3 -6 6 -5 6 -1 L7 -2 L5 2 C3 5 -3 5 -5 2 L-7 -1 Z" fill="#111" stroke="#111" stroke-width="1"/><path d="M-2 -3 l2 -1 M2 -2 l1 1" stroke="#777" stroke-width="0.8"/></g>
<g transform="translate(1744.5 1182)"><path d="M-6 0 C-6 -5 -3 -6 0 -6 C3 -6 6 -5 6 -1 L7 -2 L5 2 C3 5 -3 5 -5 2 L-7 -1 Z" fill="#111" stroke="#111" stroke-width="1"/><path d="M-2 -3 l2 -1 M2 -2 l1 1" stroke="#777" stroke-width="0.8"/></g>
<g transform="translate(1198 607)"><ellipse cx="-1.5" cy="0.5" rx="6.5" ry="9" transform="rotate(30 -1.5 0.5)" fill="#fff" stroke="#111" stroke-width="1.3"/><ellipse cx="0.5" cy="-0.5" rx="6.5" ry="9" transform="rotate(30 0.5 -0.5)" fill="#fff" stroke="#111" stroke-width="1.3"/><path d="M-2.5 2.5 L3 -3 M-1 -3 L1.5 3" stroke="#111" stroke-width="1.4"/></g>
<g transform="translate(870.5 807.6)"><ellipse cx="-1.5" cy="0.5" rx="6.5" ry="9" transform="rotate(30 -1.5 0.5)" fill="#fff" stroke="#111" stroke-width="1.3"/><ellipse cx="0.5" cy="-0.5" rx="6.5" ry="9" transform="rotate(30 0.5 -0.5)" fill="#fff" stroke="#111" stroke-width="1.3"/><path d="M-2.5 2.5 L3 -3 M-1 -3 L1.5 3" stroke="#111" stroke-width="1.4"/></g>
<g transform="translate(2243.2 1209.2)"><ellipse cx="-1.5" cy="0.5" rx="6.5" ry="9" transform="rotate(30 -1.5 0.5)" fill="#fff" stroke="#111" stroke-width="1.3"/><ellipse cx="0.5" cy="-0.5" rx="6.5" ry="9" transform="rotate(30 0.5 -0.5)" fill="#fff" stroke="#111" stroke-width="1.3"/><path d="M-2.5 2.5 L3 -3 M-1 -3 L1.5 3" stroke="#111" stroke-width="1.4"/></g>
<g transform="translate(2040.5 1483.2)"><ellipse cx="-1.5" cy="0.5" rx="6.5" ry="9" transform="rotate(30 -1.5 0.5)" fill="#fff" stroke="#111" stroke-width="1.3"/><ellipse cx="0.5" cy="-0.5" rx="6.5" ry="9" transform="rotate(30 0.5 -0.5)" fill="#fff" stroke="#111" stroke-width="1.3"/><path d="M-2.5 2.5 L3 -3 M-1 -3 L1.5 3" stroke="#111" stroke-width="1.4"/></g>
<path d="M336 258 L412 306" fill="none" stroke="#2a2a2a" stroke-width="1.25"/>
<path d="M333 699 L739.9 429.6 L864.3 383.2" fill="none" stroke="#2a2a2a" stroke-width="1.25"/>
<path d="M331 742 L498 856" fill="none" stroke="#2a2a2a" stroke-width="1.25"/>
<path d="M836 767 L869 804" fill="none" stroke="#2a2a2a" stroke-width="1.25"/>
<path d="M952 715 L989 745" fill="none" stroke="#2a2a2a" stroke-width="1.25"/>
<path d="M946 718 L979.7 762" fill="none" stroke="#2a2a2a" stroke-width="1.25"/>
<path d="M1198 516 L1198 598" fill="none" stroke="#2a2a2a" stroke-width="1.25"/>
<path d="M1336 514 L1336 591" fill="none" stroke="#2a2a2a" stroke-width="1.25"/>
<path d="M1427 695 L1417 767" fill="none" stroke="#2a2a2a" stroke-width="1.25"/>
<path d="M1505 722 L1449 753" fill="none" stroke="#2a2a2a" stroke-width="1.25"/>
<path d="M1397.6 875.6 L1397.6 958.3" fill="none" stroke="#2a2a2a" stroke-width="1.25"/>
<path d="M1588.8 877 L1588.8 925.7" fill="none" stroke="#2a2a2a" stroke-width="1.25"/>
<path d="M1822 942 L1822 1018" fill="none" stroke="#2a2a2a" stroke-width="1.25"/>
<path d="M1730.6 1004.4 L1730.6 1065.4" fill="none" stroke="#2a2a2a" stroke-width="1.25"/>
<path d="M2060 983 L2060 1054" fill="none" stroke="#2a2a2a" stroke-width="1.25"/>
<path d="M1450.5 1110 L1416.6 1091" fill="none" stroke="#2a2a2a" stroke-width="1.25"/>
<path d="M1365 1180.6 L1310.8 1213.2" fill="none" stroke="#2a2a2a" stroke-width="1.25"/>
<path d="M1595.6 1203.7 L1633.5 1228" fill="none" stroke="#2a2a2a" stroke-width="1.25"/>
<path d="M1446.4 1239 L1400 1268" fill="none" stroke="#2a2a2a" stroke-width="1.25"/>
<path d="M1697.2 1161 L1714.9 1187.4" fill="none" stroke="#2a2a2a" stroke-width="1.25"/>
<path d="M1705.4 1152.2 L1742 1179.3" fill="none" stroke="#2a2a2a" stroke-width="1.25"/>
<path d="M1203 1142 L1222 1133" fill="none" stroke="#2a2a2a" stroke-width="1.25"/>
<path d="M1099 1175 L1123 1162" fill="none" stroke="#2a2a2a" stroke-width="1.25"/>
<path d="M1551 1459 L1616 1407" fill="none" stroke="#2a2a2a" stroke-width="1.25"/>
<path d="M1556 1468 L1616 1444" fill="none" stroke="#2a2a2a" stroke-width="1.25"/>
<path d="M1246 1542 L1314 1505" fill="none" stroke="#2a2a2a" stroke-width="1.25"/>
<path d="M496 1123 L561 1083" fill="none" stroke="#2a2a2a" stroke-width="1.25"/>
<path d="M2239.5 1129.6 L2181 1169.4" fill="none" stroke="#2a2a2a" stroke-width="1.25"/>
<path d="M2305 1160 L2248.9 1202.2" fill="none" stroke="#2a2a2a" stroke-width="1.25"/>
<path d="M2176.3 1246.7 L2138.8 1202.2" fill="none" stroke="#2a2a2a" stroke-width="1.25"/>
<path d="M2103.7 1490.2 L2048.9 1481.7" fill="none" stroke="#2a2a2a" stroke-width="1.25"/>
<path d="M2000.7 1560.4 L1965.6 1540.7" fill="none" stroke="#2a2a2a" stroke-width="1.25"/>
<path d="M2673 1415 L2487 1318" fill="none" stroke="#2a2a2a" stroke-width="1.25"/>
<path d="M2675 1459 L2251.2 1766.5 L2103.7 1787.5" fill="none" stroke="#2a2a2a" stroke-width="1.25"/>
<path d="M2770 1907 L2690 1848" fill="none" stroke="#2a2a2a" stroke-width="1.25"/>
<circle cx="301.8" cy="233.7" r="39.4" fill="#3164d7"/>
<text x="303.3" y="247.9" text-anchor="middle" font-family="Liberation Sans" font-size="34.8" fill="#fff">6</text>
<circle cx="298" cy="720" r="39.4" fill="#3164d7"/>
<text x="299.5" y="734.2" text-anchor="middle" font-family="Liberation Sans" font-size="34.8" fill="#fff">7</text>
<circle cx="808" cy="737" r="39.4" fill="#3164d7"/>
<text x="809.5" y="751.2" text-anchor="middle" font-family="Liberation Sans" font-size="34.8" fill="#fff">8</text>
<circle cx="927" cy="683" r="39.4" fill="#3164d7"/>
<path d="M910.9 676.8 L915.1 676.8 L917 672 L920.2 672 L920.2 697.4 L917 697.4 L917 680.1 L910.9 680.1Z" fill="#fff"/>
<text x="939.7" y="697.2" text-anchor="middle" font-family="Liberation Sans" font-size="34.8" fill="#fff">7</text>
<circle cx="1198" cy="476" r="39.4" fill="#3164d7"/>
<text x="1199.5" y="490.2" text-anchor="middle" font-family="Liberation Sans" font-size="34.8" fill="#fff">8</text>
<circle cx="1335" cy="474" r="39.4" fill="#3164d7"/>
<path d="M1318.9 467.8 L1323.1 467.8 L1325 463 L1328.2 463 L1328.2 488.4 L1325 488.4 L1325 471.1 L1318.9 471.1Z" fill="#fff"/>
<path d="M1340.5 467.8 L1344.7 467.8 L1346.6 463 L1349.8 463 L1349.8 488.4 L1346.6 488.4 L1346.6 471.1 L1340.5 471.1Z" fill="#fff"/>
<circle cx="1429" cy="658" r="39.4" fill="#3164d7"/>
<path d="M1412.9 651.8 L1417.1 651.8 L1419 647 L1422.2 647 L1422.2 672.4 L1419 672.4 L1419 655.1 L1412.9 655.1Z" fill="#fff"/>
<text x="1441.7" y="672.2" text-anchor="middle" font-family="Liberation Sans" font-size="34.8" fill="#fff">6</text>
<circle cx="1538" cy="700" r="39.4" fill="#3164d7"/>
<text x="1539.5" y="714.2" text-anchor="middle" font-family="Liberation Sans" font-size="34.8" fill="#fff">3</text>
<circle cx="1395.4" cy="836.3" r="39.4" fill="#3164d7"/>
<path d="M1379.3 830.1 L1383.5 830.1 L1385.4 825.3 L1388.6 825.3 L1388.6 850.7 L1385.4 850.7 L1385.4 833.4 L1379.3 833.4Z" fill="#fff"/>
<text x="1408.1" y="850.5" text-anchor="middle" font-family="Liberation Sans" font-size="34.8" fill="#fff">2</text>
<circle cx="1586.6" cy="838.4" r="39.4" fill="#3164d7"/>
<path d="M1570.5 832.2 L1574.7 832.2 L1576.6 827.4 L1579.8 827.4 L1579.8 852.8 L1576.6 852.8 L1576.6 835.5 L1570.5 835.5Z" fill="#fff"/>
<text x="1599.3" y="852.6" text-anchor="middle" font-family="Liberation Sans" font-size="34.8" fill="#fff">3</text>
<circle cx="1820.6" cy="902.7" r="39.4" fill="#3164d7"/>
<text x="1822.1" y="916.9" text-anchor="middle" font-family="Liberation Sans" font-size="34.8" fill="#fff">2</text>
<circle cx="1729" cy="964.5" r="39.4" fill="#3164d7"/>
<text x="1730.5" y="978.7" text-anchor="middle" font-family="Liberation Sans" font-size="34.8" fill="#fff">4</text>
<circle cx="2059" cy="945" r="39.4" fill="#3164d7"/>
<path d="M2053.3 938.8 L2057.5 938.8 L2059.4 934 L2062.6 934 L2062.6 959.4 L2059.4 959.4 L2059.4 942.1 L2053.3 942.1Z" fill="#fff"/>
<circle cx="1357.5" cy="1020.7" r="39.4" fill="#3164d7"/>
<path d="M1341.4 1014.5 L1345.6 1014.5 L1347.5 1009.7 L1350.7 1009.7 L1350.7 1035.1 L1347.5 1035.1 L1347.5 1017.8 L1341.4 1017.8Z" fill="#fff"/>
<text x="1370.2" y="1034.9" text-anchor="middle" font-family="Liberation Sans" font-size="34.8" fill="#fff">6</text>
<circle cx="459" cy="1143" r="39.4" fill="#3164d7"/>
<path d="M442.9 1136.8 L447.1 1136.8 L449 1132 L452.2 1132 L452.2 1157.4 L449 1157.4 L449 1140.1 L442.9 1140.1Z" fill="#fff"/>
<text x="471.7" y="1157.2" text-anchor="middle" font-family="Liberation Sans" font-size="34.8" fill="#fff">5</text>
<circle cx="1485.2" cy="1128.6" r="39.4" fill="#3164d7"/>
<path d="M1469.1 1122.4 L1473.3 1122.4 L1475.2 1117.6 L1478.4 1117.6 L1478.4 1143 L1475.2 1143 L1475.2 1125.7 L1469.1 1125.7Z" fill="#fff"/>
<text x="1497.9" y="1142.8" text-anchor="middle" font-family="Liberation Sans" font-size="34.8" fill="#fff">9</text>
<circle cx="1398.2" cy="1157" r="39.4" fill="#3164d7"/>
<path d="M1382.1 1150.8 L1386.3 1150.8 L1388.2 1146 L1391.4 1146 L1391.4 1171.4 L1388.2 1171.4 L1388.2 1154.1 L1382.1 1154.1Z" fill="#fff"/>
<text x="1410.9" y="1171.2" text-anchor="middle" font-family="Liberation Sans" font-size="34.8" fill="#fff">4</text>
<circle cx="1169" cy="1164" r="39.4" fill="#3164d7"/>
<text x="1170.5" y="1178.2" text-anchor="middle" font-family="Liberation Sans" font-size="34.8" fill="#fff">5</text>
<circle cx="1062" cy="1197" r="39.4" fill="#3164d7"/>
<path d="M1045.9 1190.8 L1050.1 1190.8 L1052 1186 L1055.2 1186 L1055.2 1211.4 L1052 1211.4 L1052 1194.1 L1045.9 1194.1Z" fill="#fff"/>
<text x="1074.7" y="1211.2" text-anchor="middle" font-family="Liberation Sans" font-size="34.8" fill="#fff">6</text>
<circle cx="1562.5" cy="1182" r="39.4" fill="#3164d7"/>
<path d="M1546.4 1175.8 L1550.6 1175.8 L1552.5 1171 L1555.7 1171 L1555.7 1196.4 L1552.5 1196.4 L1552.5 1179.1 L1546.4 1179.1Z" fill="#fff"/>
<text x="1575.2" y="1196.2" text-anchor="middle" font-family="Liberation Sans" font-size="34.8" fill="#fff">8</text>
<circle cx="1478.1" cy="1214" r="39.4" fill="#3164d7"/>
<text x="1479.6" y="1228.2" text-anchor="middle" font-family="Liberation Sans" font-size="34.8" fill="#fff">9</text>
<circle cx="1672.8" cy="1128.6" r="39.4" fill="#3164d7"/>
<path d="M1656.7 1122.4 L1660.9 1122.4 L1662.8 1117.6 L1666 1117.6 L1666 1143 L1662.8 1143 L1662.8 1125.7 L1656.7 1125.7Z" fill="#fff"/>
<text x="1685.5" y="1142.8" text-anchor="middle" font-family="Liberation Sans" font-size="34.8" fill="#fff">7</text>
<circle cx="1518" cy="1481" r="39.4" fill="#3164d7"/>
<path d="M1501.9 1474.8 L1506.1 1474.8 L1508 1470 L1511.2 1470 L1511.2 1495.4 L1508 1495.4 L1508 1478.1 L1501.9 1478.1Z" fill="#fff"/>
<text x="1530.7" y="1495.2" text-anchor="middle" font-family="Liberation Sans" font-size="34.8" fill="#fff">6</text>
<circle cx="1213" cy="1560" r="39.4" fill="#3164d7"/>
<path d="M1196.9 1553.8 L1201.1 1553.8 L1203 1549 L1206.2 1549 L1206.2 1574.4 L1203 1574.4 L1203 1557.1 L1196.9 1557.1Z" fill="#fff"/>
<text x="1225.7" y="1574.2" text-anchor="middle" font-family="Liberation Sans" font-size="34.8" fill="#fff">0</text>
<circle cx="2271.3" cy="1102.9" r="39.4" fill="#3164d7"/>
<text x="2272.8" y="1117.1" text-anchor="middle" font-family="Liberation Sans" font-size="34.8" fill="#fff">3</text>
<circle cx="2335.5" cy="1133.4" r="39.4" fill="#3164d7"/>
<text x="2337" y="1147.6" text-anchor="middle" font-family="Liberation Sans" font-size="34.8" fill="#fff">8</text>
<circle cx="2199.7" cy="1282.7" r="39.4" fill="#3164d7"/>
<path d="M2183.6 1276.5 L2187.8 1276.5 L2189.7 1271.7 L2192.9 1271.7 L2192.9 1297.1 L2189.7 1297.1 L2189.7 1279.8 L2183.6 1279.8Z" fill="#fff"/>
<text x="2212.4" y="1296.9" text-anchor="middle" font-family="Liberation Sans" font-size="34.8" fill="#fff">6</text>
<circle cx="2706" cy="1432" r="39.4" fill="#3164d7"/>
<text x="2707.5" y="1446.2" text-anchor="middle" font-family="Liberation Sans" font-size="34.8" fill="#fff">7</text>
<circle cx="2142.1" cy="1494.9" r="39.4" fill="#3164d7"/>
<text x="2143.6" y="1509.1" text-anchor="middle" font-family="Liberation Sans" font-size="34.8" fill="#fff">8</text>
<circle cx="2035.8" cy="1578.2" r="39.4" fill="#3164d7"/>
<text x="2037.3" y="1592.4" text-anchor="middle" font-family="Liberation Sans" font-size="34.8" fill="#fff">5</text>
<circle cx="2803" cy="1929" r="39.4" fill="#3164d7"/>
<text x="2804.5" y="1943.2" text-anchor="middle" font-family="Liberation Sans" font-size="34.8" fill="#fff">6</text></svg></body></html>
